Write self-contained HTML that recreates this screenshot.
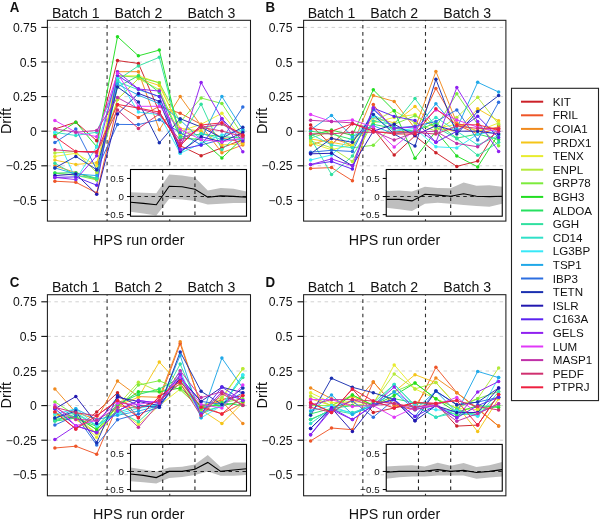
<!DOCTYPE html><html><head><meta charset="utf-8"><style>html,body{margin:0;padding:0;background:#fff}svg{display:block;will-change:transform}text{font-family:"Liberation Sans", sans-serif;fill:#111}</style></head><body>
<svg width="600" height="521" viewBox="0 0 600 521">
<rect width="600" height="521" fill="#fff"/>
<line x1="47.4" y1="27.40" x2="250.5" y2="27.40" stroke="#d2d2d2" stroke-width="1" stroke-dasharray="3.5 3.5"/>
<line x1="47.4" y1="62.00" x2="250.5" y2="62.00" stroke="#d2d2d2" stroke-width="1" stroke-dasharray="3.5 3.5"/>
<line x1="47.4" y1="96.60" x2="250.5" y2="96.60" stroke="#d2d2d2" stroke-width="1" stroke-dasharray="3.5 3.5"/>
<line x1="47.4" y1="131.20" x2="250.5" y2="131.20" stroke="#d2d2d2" stroke-width="1" stroke-dasharray="3.5 3.5"/>
<line x1="47.4" y1="165.80" x2="250.5" y2="165.80" stroke="#d2d2d2" stroke-width="1" stroke-dasharray="3.5 3.5"/>
<line x1="47.4" y1="200.40" x2="250.5" y2="200.40" stroke="#d2d2d2" stroke-width="1" stroke-dasharray="3.5 3.5"/>
<line x1="107.10" y1="20.3" x2="107.10" y2="221.1" stroke="#303030" stroke-width="1.1" stroke-dasharray="3.6 3.6" stroke-dashoffset="2.6"/>
<line x1="169.74" y1="20.3" x2="169.74" y2="221.1" stroke="#303030" stroke-width="1.1" stroke-dasharray="3.6 3.6" stroke-dashoffset="2.6"/>
<polyline fill="none" stroke="#CC2028" stroke-width="0.95" points="54.9,129.0 75.8,122.2 96.7,140.7 117.5,60.6 138.4,63.4 159.3,111.8 180.2,145.7 201.1,155.7 221.9,147.8 242.8,139.5"/>
<polyline fill="none" stroke="#EE5528" stroke-width="0.95" points="54.9,181.2 75.8,182.3 96.7,192.9 117.5,104.9 138.4,117.4 159.3,106.3 180.2,113.2 201.1,124.3 221.9,138.1 242.8,142.3"/>
<polyline fill="none" stroke="#F08A1E" stroke-width="0.95" points="54.9,165.8 75.8,172.7 96.7,179.6 117.5,71.7 138.4,71.7 159.3,129.8 180.2,96.6 201.1,125.7 221.9,152.7 242.8,145.0"/>
<polyline fill="none" stroke="#F5C518" stroke-width="0.95" points="54.9,160.1 75.8,164.4 96.7,162.8 117.5,99.4 138.4,78.6 159.3,85.5 180.2,128.4 201.1,131.2 221.9,145.0 242.8,143.7"/>
<polyline fill="none" stroke="#E8EC30" stroke-width="0.95" points="54.9,156.4 75.8,153.3 96.7,165.8 117.5,75.8 138.4,75.8 159.3,82.8 180.2,131.2 201.1,124.3 221.9,113.3 242.8,139.5"/>
<polyline fill="none" stroke="#B4EA3A" stroke-width="0.95" points="54.9,152.9 75.8,151.5 96.7,172.7 117.5,99.4 138.4,78.6 159.3,89.7 180.2,135.4 201.1,128.4 221.9,124.3 242.8,135.4"/>
<polyline fill="none" stroke="#7CEB3C" stroke-width="0.95" points="54.9,173.1 75.8,175.3 96.7,179.9 117.5,75.8 138.4,77.2 159.3,82.8 180.2,121.9 201.1,98.0 221.9,103.5 242.8,135.4"/>
<polyline fill="none" stroke="#22DD22" stroke-width="0.95" points="54.9,135.5 75.8,122.2 96.7,146.7 117.5,36.7 138.4,55.8 159.3,50.1 180.2,138.1 201.1,139.5 221.9,158.0 242.8,138.1"/>
<polyline fill="none" stroke="#26E060" stroke-width="0.95" points="54.9,173.1 75.8,172.7 96.7,178.3 117.5,86.9 138.4,75.8 159.3,92.4 180.2,137.0 201.1,134.0 221.9,136.7 242.8,138.1"/>
<polyline fill="none" stroke="#30E0A0" stroke-width="0.95" points="54.9,163.2 75.8,175.3 96.7,178.3 117.5,80.0 138.4,65.9 159.3,57.3 180.2,138.1 201.1,104.2 221.9,149.5 242.8,131.2"/>
<polyline fill="none" stroke="#30E0C8" stroke-width="0.95" points="54.9,132.4 75.8,135.5 96.7,132.2 117.5,81.8 138.4,89.7 159.3,96.6 180.2,153.3 201.1,133.4 221.9,139.5 242.8,139.5"/>
<polyline fill="none" stroke="#38E8F8" stroke-width="0.95" points="54.9,132.4 75.8,179.6 96.7,146.7 117.5,77.9 138.4,112.1 159.3,114.6 180.2,153.3 201.1,143.4 221.9,134.9 242.8,129.8"/>
<polyline fill="none" stroke="#20A8E8" stroke-width="0.95" points="54.9,167.9 75.8,174.0 96.7,175.6 117.5,84.1 138.4,95.2 159.3,103.5 180.2,120.1 201.1,139.5 221.9,96.5 242.8,129.8"/>
<polyline fill="none" stroke="#2C6EE0" stroke-width="0.95" points="54.9,142.5 75.8,129.0 96.7,169.7 117.5,124.4 138.4,124.6 159.3,119.7 180.2,132.6 201.1,145.0 221.9,139.5 242.8,107.0"/>
<polyline fill="none" stroke="#1A30B0" stroke-width="0.95" points="54.9,167.9 75.8,156.4 96.7,169.7 117.5,86.9 138.4,101.9 159.3,142.8 180.2,118.7 201.1,127.0 221.9,138.1 242.8,127.3"/>
<polyline fill="none" stroke="#2218B0" stroke-width="0.95" points="54.9,175.6 75.8,174.0 96.7,194.3 117.5,114.0 138.4,93.4 159.3,101.4 180.2,151.8 201.1,136.7 221.9,141.9 242.8,132.6"/>
<polyline fill="none" stroke="#5A22F0" stroke-width="0.95" points="54.9,177.4 75.8,176.9 96.7,185.2 117.5,75.4 138.4,89.0 159.3,96.6 180.2,149.5 201.1,145.0 221.9,118.7 242.8,140.9"/>
<polyline fill="none" stroke="#9020F0" stroke-width="0.95" points="54.9,177.4 75.8,179.6 96.7,155.8 117.5,71.7 138.4,89.0 159.3,91.1 180.2,149.5 201.1,82.5 221.9,118.7 242.8,151.8"/>
<polyline fill="none" stroke="#E038F8" stroke-width="0.95" points="54.9,120.4 75.8,132.2 96.7,136.7 117.5,73.5 138.4,106.3 159.3,106.3 180.2,129.5 201.1,139.5 221.9,141.9 242.8,138.0"/>
<polyline fill="none" stroke="#C030A8" stroke-width="0.95" points="54.9,129.0 75.8,132.2 96.7,130.5 117.5,97.6 138.4,108.8 159.3,114.0 180.2,140.3 201.1,127.3 221.9,124.1 242.8,135.4"/>
<polyline fill="none" stroke="#D03070" stroke-width="0.95" points="54.9,149.7 75.8,151.5 96.7,152.9 117.5,110.0 138.4,128.4 159.3,114.0 180.2,143.4 201.1,127.3 221.9,131.1 242.8,136.5"/>
<polyline fill="none" stroke="#EE2040" stroke-width="0.95" points="54.9,136.7 75.8,151.5 96.7,151.5 117.5,104.4 138.4,108.1 159.3,112.1 180.2,145.7 201.1,125.0 221.9,122.8 242.8,134.9"/>
<circle cx="54.9" cy="129.0" r="1.75" fill="#CC2028"/>
<circle cx="75.8" cy="122.2" r="1.75" fill="#CC2028"/>
<circle cx="96.7" cy="140.7" r="1.75" fill="#CC2028"/>
<circle cx="117.5" cy="60.6" r="1.75" fill="#CC2028"/>
<circle cx="138.4" cy="63.4" r="1.75" fill="#CC2028"/>
<circle cx="159.3" cy="111.8" r="1.75" fill="#CC2028"/>
<circle cx="180.2" cy="145.7" r="1.75" fill="#CC2028"/>
<circle cx="201.1" cy="155.7" r="1.75" fill="#CC2028"/>
<circle cx="221.9" cy="147.8" r="1.75" fill="#CC2028"/>
<circle cx="242.8" cy="139.5" r="1.75" fill="#CC2028"/>
<circle cx="54.9" cy="181.2" r="1.75" fill="#EE5528"/>
<circle cx="75.8" cy="182.3" r="1.75" fill="#EE5528"/>
<circle cx="96.7" cy="192.9" r="1.75" fill="#EE5528"/>
<circle cx="117.5" cy="104.9" r="1.75" fill="#EE5528"/>
<circle cx="138.4" cy="117.4" r="1.75" fill="#EE5528"/>
<circle cx="159.3" cy="106.3" r="1.75" fill="#EE5528"/>
<circle cx="180.2" cy="113.2" r="1.75" fill="#EE5528"/>
<circle cx="201.1" cy="124.3" r="1.75" fill="#EE5528"/>
<circle cx="221.9" cy="138.1" r="1.75" fill="#EE5528"/>
<circle cx="242.8" cy="142.3" r="1.75" fill="#EE5528"/>
<circle cx="54.9" cy="165.8" r="1.75" fill="#F08A1E"/>
<circle cx="75.8" cy="172.7" r="1.75" fill="#F08A1E"/>
<circle cx="96.7" cy="179.6" r="1.75" fill="#F08A1E"/>
<circle cx="117.5" cy="71.7" r="1.75" fill="#F08A1E"/>
<circle cx="138.4" cy="71.7" r="1.75" fill="#F08A1E"/>
<circle cx="159.3" cy="129.8" r="1.75" fill="#F08A1E"/>
<circle cx="180.2" cy="96.6" r="1.75" fill="#F08A1E"/>
<circle cx="201.1" cy="125.7" r="1.75" fill="#F08A1E"/>
<circle cx="221.9" cy="152.7" r="1.75" fill="#F08A1E"/>
<circle cx="242.8" cy="145.0" r="1.75" fill="#F08A1E"/>
<circle cx="54.9" cy="160.1" r="1.75" fill="#F5C518"/>
<circle cx="75.8" cy="164.4" r="1.75" fill="#F5C518"/>
<circle cx="96.7" cy="162.8" r="1.75" fill="#F5C518"/>
<circle cx="117.5" cy="99.4" r="1.75" fill="#F5C518"/>
<circle cx="138.4" cy="78.6" r="1.75" fill="#F5C518"/>
<circle cx="159.3" cy="85.5" r="1.75" fill="#F5C518"/>
<circle cx="180.2" cy="128.4" r="1.75" fill="#F5C518"/>
<circle cx="201.1" cy="131.2" r="1.75" fill="#F5C518"/>
<circle cx="221.9" cy="145.0" r="1.75" fill="#F5C518"/>
<circle cx="242.8" cy="143.7" r="1.75" fill="#F5C518"/>
<circle cx="54.9" cy="156.4" r="1.75" fill="#E8EC30"/>
<circle cx="75.8" cy="153.3" r="1.75" fill="#E8EC30"/>
<circle cx="96.7" cy="165.8" r="1.75" fill="#E8EC30"/>
<circle cx="117.5" cy="75.8" r="1.75" fill="#E8EC30"/>
<circle cx="138.4" cy="75.8" r="1.75" fill="#E8EC30"/>
<circle cx="159.3" cy="82.8" r="1.75" fill="#E8EC30"/>
<circle cx="180.2" cy="131.2" r="1.75" fill="#E8EC30"/>
<circle cx="201.1" cy="124.3" r="1.75" fill="#E8EC30"/>
<circle cx="221.9" cy="113.3" r="1.75" fill="#E8EC30"/>
<circle cx="242.8" cy="139.5" r="1.75" fill="#E8EC30"/>
<circle cx="54.9" cy="152.9" r="1.75" fill="#B4EA3A"/>
<circle cx="75.8" cy="151.5" r="1.75" fill="#B4EA3A"/>
<circle cx="96.7" cy="172.7" r="1.75" fill="#B4EA3A"/>
<circle cx="117.5" cy="99.4" r="1.75" fill="#B4EA3A"/>
<circle cx="138.4" cy="78.6" r="1.75" fill="#B4EA3A"/>
<circle cx="159.3" cy="89.7" r="1.75" fill="#B4EA3A"/>
<circle cx="180.2" cy="135.4" r="1.75" fill="#B4EA3A"/>
<circle cx="201.1" cy="128.4" r="1.75" fill="#B4EA3A"/>
<circle cx="221.9" cy="124.3" r="1.75" fill="#B4EA3A"/>
<circle cx="242.8" cy="135.4" r="1.75" fill="#B4EA3A"/>
<circle cx="54.9" cy="173.1" r="1.75" fill="#7CEB3C"/>
<circle cx="75.8" cy="175.3" r="1.75" fill="#7CEB3C"/>
<circle cx="96.7" cy="179.9" r="1.75" fill="#7CEB3C"/>
<circle cx="117.5" cy="75.8" r="1.75" fill="#7CEB3C"/>
<circle cx="138.4" cy="77.2" r="1.75" fill="#7CEB3C"/>
<circle cx="159.3" cy="82.8" r="1.75" fill="#7CEB3C"/>
<circle cx="180.2" cy="121.9" r="1.75" fill="#7CEB3C"/>
<circle cx="201.1" cy="98.0" r="1.75" fill="#7CEB3C"/>
<circle cx="221.9" cy="103.5" r="1.75" fill="#7CEB3C"/>
<circle cx="242.8" cy="135.4" r="1.75" fill="#7CEB3C"/>
<circle cx="54.9" cy="135.5" r="1.75" fill="#22DD22"/>
<circle cx="75.8" cy="122.2" r="1.75" fill="#22DD22"/>
<circle cx="96.7" cy="146.7" r="1.75" fill="#22DD22"/>
<circle cx="117.5" cy="36.7" r="1.75" fill="#22DD22"/>
<circle cx="138.4" cy="55.8" r="1.75" fill="#22DD22"/>
<circle cx="159.3" cy="50.1" r="1.75" fill="#22DD22"/>
<circle cx="180.2" cy="138.1" r="1.75" fill="#22DD22"/>
<circle cx="201.1" cy="139.5" r="1.75" fill="#22DD22"/>
<circle cx="221.9" cy="158.0" r="1.75" fill="#22DD22"/>
<circle cx="242.8" cy="138.1" r="1.75" fill="#22DD22"/>
<circle cx="54.9" cy="173.1" r="1.75" fill="#26E060"/>
<circle cx="75.8" cy="172.7" r="1.75" fill="#26E060"/>
<circle cx="96.7" cy="178.3" r="1.75" fill="#26E060"/>
<circle cx="117.5" cy="86.9" r="1.75" fill="#26E060"/>
<circle cx="138.4" cy="75.8" r="1.75" fill="#26E060"/>
<circle cx="159.3" cy="92.4" r="1.75" fill="#26E060"/>
<circle cx="180.2" cy="137.0" r="1.75" fill="#26E060"/>
<circle cx="201.1" cy="134.0" r="1.75" fill="#26E060"/>
<circle cx="221.9" cy="136.7" r="1.75" fill="#26E060"/>
<circle cx="242.8" cy="138.1" r="1.75" fill="#26E060"/>
<circle cx="54.9" cy="163.2" r="1.75" fill="#30E0A0"/>
<circle cx="75.8" cy="175.3" r="1.75" fill="#30E0A0"/>
<circle cx="96.7" cy="178.3" r="1.75" fill="#30E0A0"/>
<circle cx="117.5" cy="80.0" r="1.75" fill="#30E0A0"/>
<circle cx="138.4" cy="65.9" r="1.75" fill="#30E0A0"/>
<circle cx="159.3" cy="57.3" r="1.75" fill="#30E0A0"/>
<circle cx="180.2" cy="138.1" r="1.75" fill="#30E0A0"/>
<circle cx="201.1" cy="104.2" r="1.75" fill="#30E0A0"/>
<circle cx="221.9" cy="149.5" r="1.75" fill="#30E0A0"/>
<circle cx="242.8" cy="131.2" r="1.75" fill="#30E0A0"/>
<circle cx="54.9" cy="132.4" r="1.75" fill="#30E0C8"/>
<circle cx="75.8" cy="135.5" r="1.75" fill="#30E0C8"/>
<circle cx="96.7" cy="132.2" r="1.75" fill="#30E0C8"/>
<circle cx="117.5" cy="81.8" r="1.75" fill="#30E0C8"/>
<circle cx="138.4" cy="89.7" r="1.75" fill="#30E0C8"/>
<circle cx="159.3" cy="96.6" r="1.75" fill="#30E0C8"/>
<circle cx="180.2" cy="153.3" r="1.75" fill="#30E0C8"/>
<circle cx="201.1" cy="133.4" r="1.75" fill="#30E0C8"/>
<circle cx="221.9" cy="139.5" r="1.75" fill="#30E0C8"/>
<circle cx="242.8" cy="139.5" r="1.75" fill="#30E0C8"/>
<circle cx="54.9" cy="132.4" r="1.75" fill="#38E8F8"/>
<circle cx="75.8" cy="179.6" r="1.75" fill="#38E8F8"/>
<circle cx="96.7" cy="146.7" r="1.75" fill="#38E8F8"/>
<circle cx="117.5" cy="77.9" r="1.75" fill="#38E8F8"/>
<circle cx="138.4" cy="112.1" r="1.75" fill="#38E8F8"/>
<circle cx="159.3" cy="114.6" r="1.75" fill="#38E8F8"/>
<circle cx="180.2" cy="153.3" r="1.75" fill="#38E8F8"/>
<circle cx="201.1" cy="143.4" r="1.75" fill="#38E8F8"/>
<circle cx="221.9" cy="134.9" r="1.75" fill="#38E8F8"/>
<circle cx="242.8" cy="129.8" r="1.75" fill="#38E8F8"/>
<circle cx="54.9" cy="167.9" r="1.75" fill="#20A8E8"/>
<circle cx="75.8" cy="174.0" r="1.75" fill="#20A8E8"/>
<circle cx="96.7" cy="175.6" r="1.75" fill="#20A8E8"/>
<circle cx="117.5" cy="84.1" r="1.75" fill="#20A8E8"/>
<circle cx="138.4" cy="95.2" r="1.75" fill="#20A8E8"/>
<circle cx="159.3" cy="103.5" r="1.75" fill="#20A8E8"/>
<circle cx="180.2" cy="120.1" r="1.75" fill="#20A8E8"/>
<circle cx="201.1" cy="139.5" r="1.75" fill="#20A8E8"/>
<circle cx="221.9" cy="96.5" r="1.75" fill="#20A8E8"/>
<circle cx="242.8" cy="129.8" r="1.75" fill="#20A8E8"/>
<circle cx="54.9" cy="142.5" r="1.75" fill="#2C6EE0"/>
<circle cx="75.8" cy="129.0" r="1.75" fill="#2C6EE0"/>
<circle cx="96.7" cy="169.7" r="1.75" fill="#2C6EE0"/>
<circle cx="117.5" cy="124.4" r="1.75" fill="#2C6EE0"/>
<circle cx="138.4" cy="124.6" r="1.75" fill="#2C6EE0"/>
<circle cx="159.3" cy="119.7" r="1.75" fill="#2C6EE0"/>
<circle cx="180.2" cy="132.6" r="1.75" fill="#2C6EE0"/>
<circle cx="201.1" cy="145.0" r="1.75" fill="#2C6EE0"/>
<circle cx="221.9" cy="139.5" r="1.75" fill="#2C6EE0"/>
<circle cx="242.8" cy="107.0" r="1.75" fill="#2C6EE0"/>
<circle cx="54.9" cy="167.9" r="1.75" fill="#1A30B0"/>
<circle cx="75.8" cy="156.4" r="1.75" fill="#1A30B0"/>
<circle cx="96.7" cy="169.7" r="1.75" fill="#1A30B0"/>
<circle cx="117.5" cy="86.9" r="1.75" fill="#1A30B0"/>
<circle cx="138.4" cy="101.9" r="1.75" fill="#1A30B0"/>
<circle cx="159.3" cy="142.8" r="1.75" fill="#1A30B0"/>
<circle cx="180.2" cy="118.7" r="1.75" fill="#1A30B0"/>
<circle cx="201.1" cy="127.0" r="1.75" fill="#1A30B0"/>
<circle cx="221.9" cy="138.1" r="1.75" fill="#1A30B0"/>
<circle cx="242.8" cy="127.3" r="1.75" fill="#1A30B0"/>
<circle cx="54.9" cy="175.6" r="1.75" fill="#2218B0"/>
<circle cx="75.8" cy="174.0" r="1.75" fill="#2218B0"/>
<circle cx="96.7" cy="194.3" r="1.75" fill="#2218B0"/>
<circle cx="117.5" cy="114.0" r="1.75" fill="#2218B0"/>
<circle cx="138.4" cy="93.4" r="1.75" fill="#2218B0"/>
<circle cx="159.3" cy="101.4" r="1.75" fill="#2218B0"/>
<circle cx="180.2" cy="151.8" r="1.75" fill="#2218B0"/>
<circle cx="201.1" cy="136.7" r="1.75" fill="#2218B0"/>
<circle cx="221.9" cy="141.9" r="1.75" fill="#2218B0"/>
<circle cx="242.8" cy="132.6" r="1.75" fill="#2218B0"/>
<circle cx="54.9" cy="177.4" r="1.75" fill="#5A22F0"/>
<circle cx="75.8" cy="176.9" r="1.75" fill="#5A22F0"/>
<circle cx="96.7" cy="185.2" r="1.75" fill="#5A22F0"/>
<circle cx="117.5" cy="75.4" r="1.75" fill="#5A22F0"/>
<circle cx="138.4" cy="89.0" r="1.75" fill="#5A22F0"/>
<circle cx="159.3" cy="96.6" r="1.75" fill="#5A22F0"/>
<circle cx="180.2" cy="149.5" r="1.75" fill="#5A22F0"/>
<circle cx="201.1" cy="145.0" r="1.75" fill="#5A22F0"/>
<circle cx="221.9" cy="118.7" r="1.75" fill="#5A22F0"/>
<circle cx="242.8" cy="140.9" r="1.75" fill="#5A22F0"/>
<circle cx="54.9" cy="177.4" r="1.75" fill="#9020F0"/>
<circle cx="75.8" cy="179.6" r="1.75" fill="#9020F0"/>
<circle cx="96.7" cy="155.8" r="1.75" fill="#9020F0"/>
<circle cx="117.5" cy="71.7" r="1.75" fill="#9020F0"/>
<circle cx="138.4" cy="89.0" r="1.75" fill="#9020F0"/>
<circle cx="159.3" cy="91.1" r="1.75" fill="#9020F0"/>
<circle cx="180.2" cy="149.5" r="1.75" fill="#9020F0"/>
<circle cx="201.1" cy="82.5" r="1.75" fill="#9020F0"/>
<circle cx="221.9" cy="118.7" r="1.75" fill="#9020F0"/>
<circle cx="242.8" cy="151.8" r="1.75" fill="#9020F0"/>
<circle cx="54.9" cy="120.4" r="1.75" fill="#E038F8"/>
<circle cx="75.8" cy="132.2" r="1.75" fill="#E038F8"/>
<circle cx="96.7" cy="136.7" r="1.75" fill="#E038F8"/>
<circle cx="117.5" cy="73.5" r="1.75" fill="#E038F8"/>
<circle cx="138.4" cy="106.3" r="1.75" fill="#E038F8"/>
<circle cx="159.3" cy="106.3" r="1.75" fill="#E038F8"/>
<circle cx="180.2" cy="129.5" r="1.75" fill="#E038F8"/>
<circle cx="201.1" cy="139.5" r="1.75" fill="#E038F8"/>
<circle cx="221.9" cy="141.9" r="1.75" fill="#E038F8"/>
<circle cx="242.8" cy="138.0" r="1.75" fill="#E038F8"/>
<circle cx="54.9" cy="129.0" r="1.75" fill="#C030A8"/>
<circle cx="75.8" cy="132.2" r="1.75" fill="#C030A8"/>
<circle cx="96.7" cy="130.5" r="1.75" fill="#C030A8"/>
<circle cx="117.5" cy="97.6" r="1.75" fill="#C030A8"/>
<circle cx="138.4" cy="108.8" r="1.75" fill="#C030A8"/>
<circle cx="159.3" cy="114.0" r="1.75" fill="#C030A8"/>
<circle cx="180.2" cy="140.3" r="1.75" fill="#C030A8"/>
<circle cx="201.1" cy="127.3" r="1.75" fill="#C030A8"/>
<circle cx="221.9" cy="124.1" r="1.75" fill="#C030A8"/>
<circle cx="242.8" cy="135.4" r="1.75" fill="#C030A8"/>
<circle cx="54.9" cy="149.7" r="1.75" fill="#D03070"/>
<circle cx="75.8" cy="151.5" r="1.75" fill="#D03070"/>
<circle cx="96.7" cy="152.9" r="1.75" fill="#D03070"/>
<circle cx="117.5" cy="110.0" r="1.75" fill="#D03070"/>
<circle cx="138.4" cy="128.4" r="1.75" fill="#D03070"/>
<circle cx="159.3" cy="114.0" r="1.75" fill="#D03070"/>
<circle cx="180.2" cy="143.4" r="1.75" fill="#D03070"/>
<circle cx="201.1" cy="127.3" r="1.75" fill="#D03070"/>
<circle cx="221.9" cy="131.1" r="1.75" fill="#D03070"/>
<circle cx="242.8" cy="136.5" r="1.75" fill="#D03070"/>
<circle cx="54.9" cy="136.7" r="1.75" fill="#EE2040"/>
<circle cx="75.8" cy="151.5" r="1.75" fill="#EE2040"/>
<circle cx="96.7" cy="151.5" r="1.75" fill="#EE2040"/>
<circle cx="117.5" cy="104.4" r="1.75" fill="#EE2040"/>
<circle cx="138.4" cy="108.1" r="1.75" fill="#EE2040"/>
<circle cx="159.3" cy="112.1" r="1.75" fill="#EE2040"/>
<circle cx="180.2" cy="145.7" r="1.75" fill="#EE2040"/>
<circle cx="201.1" cy="125.0" r="1.75" fill="#EE2040"/>
<circle cx="221.9" cy="122.8" r="1.75" fill="#EE2040"/>
<circle cx="242.8" cy="134.9" r="1.75" fill="#EE2040"/>
<rect x="130.5" y="169.5" width="116.0" height="46.69999999999999" fill="#fff"/>
<clipPath id="cA"><rect x="130.5" y="169.5" width="116.0" height="46.69999999999999"/></clipPath>
<polygon clip-path="url(#cA)" fill="#bebebe" points="130.5,192.2 143.4,192.7 156.3,193.3 169.2,174.5 182.1,175.6 194.9,177.4 207.8,190.4 220.7,187.9 233.6,188.8 246.5,191.5 246.5,203.1 233.6,203.1 220.7,203.8 207.8,204.5 194.9,200.9 182.1,199.4 169.2,198.7 156.3,215.4 143.4,213.6 130.5,211.8"/>
<line x1="130.5" y1="196.55" x2="246.5" y2="196.55" stroke="#222" stroke-width="1.1" stroke-dasharray="3.5 3.5"/>
<line x1="162.72" y1="169.5" x2="162.72" y2="216.2" stroke="#222" stroke-width="1.1" stroke-dasharray="3.5 3.5"/>
<line x1="194.94" y1="169.5" x2="194.94" y2="216.2" stroke="#222" stroke-width="1.1" stroke-dasharray="3.5 3.5"/>
<polyline clip-path="url(#cA)" fill="none" stroke="#000" stroke-width="1.1" points="130.5,202.3 143.4,203.4 156.3,204.7 169.2,186.3 182.1,186.8 194.9,189.3 207.8,197.3 220.7,195.9 233.6,196.4 246.5,197.3"/>
<rect x="130.5" y="169.5" width="116.0" height="46.69999999999999" fill="none" stroke="#000" stroke-width="1.1"/>
<line x1="127.0" y1="178.45" x2="130.5" y2="178.45" stroke="#000" stroke-width="1"/>
<text x="123.9" y="181.95" font-size="9.8" text-anchor="end">0.5</text>
<line x1="127.0" y1="196.55" x2="130.5" y2="196.55" stroke="#000" stroke-width="1"/>
<text x="123.9" y="200.05" font-size="9.8" text-anchor="end">0</text>
<line x1="127.0" y1="214.65" x2="130.5" y2="214.65" stroke="#000" stroke-width="1"/>
<text x="123.9" y="218.15" font-size="9.8" text-anchor="end">−0.5</text>
<rect x="47.4" y="20.3" width="203.1" height="200.79999999999998" fill="none" stroke="#1a1a1a" stroke-width="1.05"/>
<line x1="41.3" y1="27.40" x2="47.4" y2="27.40" stroke="#111" stroke-width="1.1"/>
<text x="36.7" y="31.90" font-size="12.2" text-anchor="end">0.75</text>
<line x1="41.3" y1="62.00" x2="47.4" y2="62.00" stroke="#111" stroke-width="1.1"/>
<text x="36.7" y="66.50" font-size="12.2" text-anchor="end">0.5</text>
<line x1="41.3" y1="96.60" x2="47.4" y2="96.60" stroke="#111" stroke-width="1.1"/>
<text x="36.7" y="101.10" font-size="12.2" text-anchor="end">0.25</text>
<line x1="41.3" y1="131.20" x2="47.4" y2="131.20" stroke="#111" stroke-width="1.1"/>
<text x="36.7" y="135.70" font-size="12.2" text-anchor="end">0</text>
<line x1="41.3" y1="165.80" x2="47.4" y2="165.80" stroke="#111" stroke-width="1.1"/>
<text x="36.7" y="170.30" font-size="12.2" text-anchor="end">−0.25</text>
<line x1="41.3" y1="200.40" x2="47.4" y2="200.40" stroke="#111" stroke-width="1.1"/>
<text x="36.7" y="204.90" font-size="12.2" text-anchor="end">−0.5</text>
<text x="75.78" y="18" font-size="14.1" text-anchor="middle">Batch 1</text>
<text x="138.42" y="18" font-size="14.1" text-anchor="middle">Batch 2</text>
<text x="211.50" y="18" font-size="14.1" text-anchor="middle">Batch 3</text>
<text transform="translate(9.7,12.1) scale(0.93,1)" font-size="14.3" font-weight="bold">A</text>
<text transform="translate(10.9,120.9) rotate(-90)" font-size="14.4" text-anchor="middle">Drift</text>
<text x="138.8" y="245" font-size="14.3" text-anchor="middle">HPS run order</text>
<line x1="303.59999999999997" y1="27.40" x2="505.9" y2="27.40" stroke="#d2d2d2" stroke-width="1" stroke-dasharray="3.5 3.5"/>
<line x1="303.59999999999997" y1="62.00" x2="505.9" y2="62.00" stroke="#d2d2d2" stroke-width="1" stroke-dasharray="3.5 3.5"/>
<line x1="303.59999999999997" y1="96.60" x2="505.9" y2="96.60" stroke="#d2d2d2" stroke-width="1" stroke-dasharray="3.5 3.5"/>
<line x1="303.59999999999997" y1="131.20" x2="505.9" y2="131.20" stroke="#d2d2d2" stroke-width="1" stroke-dasharray="3.5 3.5"/>
<line x1="303.59999999999997" y1="165.80" x2="505.9" y2="165.80" stroke="#d2d2d2" stroke-width="1" stroke-dasharray="3.5 3.5"/>
<line x1="303.59999999999997" y1="200.40" x2="505.9" y2="200.40" stroke="#d2d2d2" stroke-width="1" stroke-dasharray="3.5 3.5"/>
<line x1="362.85" y1="20.3" x2="362.85" y2="221.1" stroke="#303030" stroke-width="1.1" stroke-dasharray="3.6 3.6" stroke-dashoffset="2.6"/>
<line x1="425.49" y1="20.3" x2="425.49" y2="221.1" stroke="#303030" stroke-width="1.1" stroke-dasharray="3.6 3.6" stroke-dashoffset="2.6"/>
<polyline fill="none" stroke="#CC2028" stroke-width="0.95" points="310.6,125.1 331.5,145.0 352.4,123.7 373.3,128.8 394.2,155.1 415.0,135.8 435.9,152.7 456.8,166.4 477.7,161.1 498.6,126.1"/>
<polyline fill="none" stroke="#EE5528" stroke-width="0.95" points="310.6,168.4 331.5,167.6 352.4,180.7 373.3,104.6 394.2,131.2 415.0,132.6 435.9,88.4 456.8,124.8 477.7,134.0 498.6,128.4"/>
<polyline fill="none" stroke="#F08A1E" stroke-width="0.95" points="310.6,145.0 331.5,138.1 352.4,145.0 373.3,95.5 394.2,101.4 415.0,128.4 435.9,71.4 456.8,122.9 477.7,131.2 498.6,127.0"/>
<polyline fill="none" stroke="#F5C518" stroke-width="0.95" points="310.6,139.0 331.5,142.3 352.4,146.1 373.3,117.4 394.2,122.9 415.0,106.4 435.9,128.4 456.8,131.2 477.7,108.8 498.6,120.8"/>
<polyline fill="none" stroke="#E8EC30" stroke-width="0.95" points="310.6,143.0 331.5,149.7 352.4,145.0 373.3,122.9 394.2,117.4 415.0,114.6 435.9,128.4 456.8,124.3 477.7,131.2 498.6,122.9"/>
<polyline fill="none" stroke="#B4EA3A" stroke-width="0.95" points="310.6,140.9 331.5,147.8 352.4,161.5 373.3,121.5 394.2,110.7 415.0,122.9 435.9,131.2 456.8,117.4 477.7,97.3 498.6,124.3"/>
<polyline fill="none" stroke="#7CEB3C" stroke-width="0.95" points="310.6,138.1 331.5,131.2 352.4,147.8 373.3,145.3 394.2,124.3 415.0,115.8 435.9,127.2 456.8,93.8 477.7,124.3 498.6,145.7"/>
<polyline fill="none" stroke="#22DD22" stroke-width="0.95" points="310.6,135.4 331.5,130.0 352.4,135.4 373.3,89.8 394.2,110.7 415.0,158.3 435.9,131.2 456.8,156.0 477.7,166.9 498.6,134.0"/>
<polyline fill="none" stroke="#26E060" stroke-width="0.95" points="310.6,131.2 331.5,134.0 352.4,139.5 373.3,124.3 394.2,128.4 415.0,131.2 435.9,122.9 456.8,138.1 477.7,134.0 498.6,139.5"/>
<polyline fill="none" stroke="#30E0A0" stroke-width="0.95" points="310.6,138.1 331.5,174.5 352.4,156.1 373.3,121.1 394.2,124.6 415.0,98.5 435.9,127.0 456.8,138.7 477.7,155.3 498.6,142.3"/>
<polyline fill="none" stroke="#30E0C8" stroke-width="0.95" points="310.6,134.0 331.5,145.0 352.4,147.8 373.3,114.6 394.2,127.0 415.0,132.6 435.9,117.4 456.8,131.2 477.7,145.0 498.6,135.4"/>
<polyline fill="none" stroke="#38E8F8" stroke-width="0.95" points="310.6,160.0 331.5,154.9 352.4,136.9 373.3,116.7 394.2,131.2 415.0,128.4 435.9,146.8 456.8,147.9 477.7,134.1 498.6,131.2"/>
<polyline fill="none" stroke="#20A8E8" stroke-width="0.95" points="310.6,129.7 331.5,115.4 352.4,136.9 373.3,125.7 394.2,134.0 415.0,131.2 435.9,103.7 456.8,128.4 477.7,82.3 498.6,92.0"/>
<polyline fill="none" stroke="#2C6EE0" stroke-width="0.95" points="310.6,152.2 331.5,150.3 352.4,151.5 373.3,109.7 394.2,128.0 415.0,126.2 435.9,121.5 456.8,109.9 477.7,139.9 498.6,102.3"/>
<polyline fill="none" stroke="#1A30B0" stroke-width="0.95" points="310.6,153.8 331.5,138.4 352.4,142.3 373.3,114.6 394.2,134.0 415.0,146.1 435.9,79.3 456.8,134.1 477.7,111.5 498.6,95.6"/>
<polyline fill="none" stroke="#2218B0" stroke-width="0.95" points="310.6,153.8 331.5,153.3 352.4,165.8 373.3,131.2 394.2,124.3 415.0,135.4 435.9,125.7 456.8,131.2 477.7,131.2 498.6,134.0"/>
<polyline fill="none" stroke="#5A22F0" stroke-width="0.95" points="310.6,164.6 331.5,161.5 352.4,169.1 373.3,108.1 394.2,116.4 415.0,120.5 435.9,142.3 456.8,131.2 477.7,116.3 498.6,137.6"/>
<polyline fill="none" stroke="#9020F0" stroke-width="0.95" points="310.6,164.6 331.5,158.9 352.4,165.8 373.3,108.1 394.2,128.4 415.0,127.0 435.9,142.3 456.8,87.6 477.7,121.5 498.6,151.4"/>
<polyline fill="none" stroke="#E038F8" stroke-width="0.95" points="310.6,114.6 331.5,121.5 352.4,120.0 373.3,127.0 394.2,147.0 415.0,129.7 435.9,109.9 456.8,119.9 477.7,127.2 498.6,131.8"/>
<polyline fill="none" stroke="#C030A8" stroke-width="0.95" points="310.6,120.3 331.5,121.5 352.4,122.9 373.3,131.2 394.2,140.1 415.0,132.3 435.9,131.2 456.8,143.4 477.7,146.8 498.6,131.2"/>
<polyline fill="none" stroke="#D03070" stroke-width="0.95" points="310.6,133.8 331.5,133.8 352.4,132.3 373.3,132.3 394.2,132.3 415.0,132.3 435.9,134.1 456.8,126.1 477.7,128.4 498.6,128.4"/>
<polyline fill="none" stroke="#EE2040" stroke-width="0.95" points="310.6,128.4 331.5,131.2 352.4,123.7 373.3,131.2 394.2,134.0 415.0,134.0 435.9,108.8 456.8,124.8 477.7,124.8 498.6,129.8"/>
<circle cx="310.6" cy="125.1" r="1.75" fill="#CC2028"/>
<circle cx="331.5" cy="145.0" r="1.75" fill="#CC2028"/>
<circle cx="352.4" cy="123.7" r="1.75" fill="#CC2028"/>
<circle cx="373.3" cy="128.8" r="1.75" fill="#CC2028"/>
<circle cx="394.2" cy="155.1" r="1.75" fill="#CC2028"/>
<circle cx="415.0" cy="135.8" r="1.75" fill="#CC2028"/>
<circle cx="435.9" cy="152.7" r="1.75" fill="#CC2028"/>
<circle cx="456.8" cy="166.4" r="1.75" fill="#CC2028"/>
<circle cx="477.7" cy="161.1" r="1.75" fill="#CC2028"/>
<circle cx="498.6" cy="126.1" r="1.75" fill="#CC2028"/>
<circle cx="310.6" cy="168.4" r="1.75" fill="#EE5528"/>
<circle cx="331.5" cy="167.6" r="1.75" fill="#EE5528"/>
<circle cx="352.4" cy="180.7" r="1.75" fill="#EE5528"/>
<circle cx="373.3" cy="104.6" r="1.75" fill="#EE5528"/>
<circle cx="394.2" cy="131.2" r="1.75" fill="#EE5528"/>
<circle cx="415.0" cy="132.6" r="1.75" fill="#EE5528"/>
<circle cx="435.9" cy="88.4" r="1.75" fill="#EE5528"/>
<circle cx="456.8" cy="124.8" r="1.75" fill="#EE5528"/>
<circle cx="477.7" cy="134.0" r="1.75" fill="#EE5528"/>
<circle cx="498.6" cy="128.4" r="1.75" fill="#EE5528"/>
<circle cx="310.6" cy="145.0" r="1.75" fill="#F08A1E"/>
<circle cx="331.5" cy="138.1" r="1.75" fill="#F08A1E"/>
<circle cx="352.4" cy="145.0" r="1.75" fill="#F08A1E"/>
<circle cx="373.3" cy="95.5" r="1.75" fill="#F08A1E"/>
<circle cx="394.2" cy="101.4" r="1.75" fill="#F08A1E"/>
<circle cx="415.0" cy="128.4" r="1.75" fill="#F08A1E"/>
<circle cx="435.9" cy="71.4" r="1.75" fill="#F08A1E"/>
<circle cx="456.8" cy="122.9" r="1.75" fill="#F08A1E"/>
<circle cx="477.7" cy="131.2" r="1.75" fill="#F08A1E"/>
<circle cx="498.6" cy="127.0" r="1.75" fill="#F08A1E"/>
<circle cx="310.6" cy="139.0" r="1.75" fill="#F5C518"/>
<circle cx="331.5" cy="142.3" r="1.75" fill="#F5C518"/>
<circle cx="352.4" cy="146.1" r="1.75" fill="#F5C518"/>
<circle cx="373.3" cy="117.4" r="1.75" fill="#F5C518"/>
<circle cx="394.2" cy="122.9" r="1.75" fill="#F5C518"/>
<circle cx="415.0" cy="106.4" r="1.75" fill="#F5C518"/>
<circle cx="435.9" cy="128.4" r="1.75" fill="#F5C518"/>
<circle cx="456.8" cy="131.2" r="1.75" fill="#F5C518"/>
<circle cx="477.7" cy="108.8" r="1.75" fill="#F5C518"/>
<circle cx="498.6" cy="120.8" r="1.75" fill="#F5C518"/>
<circle cx="310.6" cy="143.0" r="1.75" fill="#E8EC30"/>
<circle cx="331.5" cy="149.7" r="1.75" fill="#E8EC30"/>
<circle cx="352.4" cy="145.0" r="1.75" fill="#E8EC30"/>
<circle cx="373.3" cy="122.9" r="1.75" fill="#E8EC30"/>
<circle cx="394.2" cy="117.4" r="1.75" fill="#E8EC30"/>
<circle cx="415.0" cy="114.6" r="1.75" fill="#E8EC30"/>
<circle cx="435.9" cy="128.4" r="1.75" fill="#E8EC30"/>
<circle cx="456.8" cy="124.3" r="1.75" fill="#E8EC30"/>
<circle cx="477.7" cy="131.2" r="1.75" fill="#E8EC30"/>
<circle cx="498.6" cy="122.9" r="1.75" fill="#E8EC30"/>
<circle cx="310.6" cy="140.9" r="1.75" fill="#B4EA3A"/>
<circle cx="331.5" cy="147.8" r="1.75" fill="#B4EA3A"/>
<circle cx="352.4" cy="161.5" r="1.75" fill="#B4EA3A"/>
<circle cx="373.3" cy="121.5" r="1.75" fill="#B4EA3A"/>
<circle cx="394.2" cy="110.7" r="1.75" fill="#B4EA3A"/>
<circle cx="415.0" cy="122.9" r="1.75" fill="#B4EA3A"/>
<circle cx="435.9" cy="131.2" r="1.75" fill="#B4EA3A"/>
<circle cx="456.8" cy="117.4" r="1.75" fill="#B4EA3A"/>
<circle cx="477.7" cy="97.3" r="1.75" fill="#B4EA3A"/>
<circle cx="498.6" cy="124.3" r="1.75" fill="#B4EA3A"/>
<circle cx="310.6" cy="138.1" r="1.75" fill="#7CEB3C"/>
<circle cx="331.5" cy="131.2" r="1.75" fill="#7CEB3C"/>
<circle cx="352.4" cy="147.8" r="1.75" fill="#7CEB3C"/>
<circle cx="373.3" cy="145.3" r="1.75" fill="#7CEB3C"/>
<circle cx="394.2" cy="124.3" r="1.75" fill="#7CEB3C"/>
<circle cx="415.0" cy="115.8" r="1.75" fill="#7CEB3C"/>
<circle cx="435.9" cy="127.2" r="1.75" fill="#7CEB3C"/>
<circle cx="456.8" cy="93.8" r="1.75" fill="#7CEB3C"/>
<circle cx="477.7" cy="124.3" r="1.75" fill="#7CEB3C"/>
<circle cx="498.6" cy="145.7" r="1.75" fill="#7CEB3C"/>
<circle cx="310.6" cy="135.4" r="1.75" fill="#22DD22"/>
<circle cx="331.5" cy="130.0" r="1.75" fill="#22DD22"/>
<circle cx="352.4" cy="135.4" r="1.75" fill="#22DD22"/>
<circle cx="373.3" cy="89.8" r="1.75" fill="#22DD22"/>
<circle cx="394.2" cy="110.7" r="1.75" fill="#22DD22"/>
<circle cx="415.0" cy="158.3" r="1.75" fill="#22DD22"/>
<circle cx="435.9" cy="131.2" r="1.75" fill="#22DD22"/>
<circle cx="456.8" cy="156.0" r="1.75" fill="#22DD22"/>
<circle cx="477.7" cy="166.9" r="1.75" fill="#22DD22"/>
<circle cx="498.6" cy="134.0" r="1.75" fill="#22DD22"/>
<circle cx="310.6" cy="131.2" r="1.75" fill="#26E060"/>
<circle cx="331.5" cy="134.0" r="1.75" fill="#26E060"/>
<circle cx="352.4" cy="139.5" r="1.75" fill="#26E060"/>
<circle cx="373.3" cy="124.3" r="1.75" fill="#26E060"/>
<circle cx="394.2" cy="128.4" r="1.75" fill="#26E060"/>
<circle cx="415.0" cy="131.2" r="1.75" fill="#26E060"/>
<circle cx="435.9" cy="122.9" r="1.75" fill="#26E060"/>
<circle cx="456.8" cy="138.1" r="1.75" fill="#26E060"/>
<circle cx="477.7" cy="134.0" r="1.75" fill="#26E060"/>
<circle cx="498.6" cy="139.5" r="1.75" fill="#26E060"/>
<circle cx="310.6" cy="138.1" r="1.75" fill="#30E0A0"/>
<circle cx="331.5" cy="174.5" r="1.75" fill="#30E0A0"/>
<circle cx="352.4" cy="156.1" r="1.75" fill="#30E0A0"/>
<circle cx="373.3" cy="121.1" r="1.75" fill="#30E0A0"/>
<circle cx="394.2" cy="124.6" r="1.75" fill="#30E0A0"/>
<circle cx="415.0" cy="98.5" r="1.75" fill="#30E0A0"/>
<circle cx="435.9" cy="127.0" r="1.75" fill="#30E0A0"/>
<circle cx="456.8" cy="138.7" r="1.75" fill="#30E0A0"/>
<circle cx="477.7" cy="155.3" r="1.75" fill="#30E0A0"/>
<circle cx="498.6" cy="142.3" r="1.75" fill="#30E0A0"/>
<circle cx="310.6" cy="134.0" r="1.75" fill="#30E0C8"/>
<circle cx="331.5" cy="145.0" r="1.75" fill="#30E0C8"/>
<circle cx="352.4" cy="147.8" r="1.75" fill="#30E0C8"/>
<circle cx="373.3" cy="114.6" r="1.75" fill="#30E0C8"/>
<circle cx="394.2" cy="127.0" r="1.75" fill="#30E0C8"/>
<circle cx="415.0" cy="132.6" r="1.75" fill="#30E0C8"/>
<circle cx="435.9" cy="117.4" r="1.75" fill="#30E0C8"/>
<circle cx="456.8" cy="131.2" r="1.75" fill="#30E0C8"/>
<circle cx="477.7" cy="145.0" r="1.75" fill="#30E0C8"/>
<circle cx="498.6" cy="135.4" r="1.75" fill="#30E0C8"/>
<circle cx="310.6" cy="160.0" r="1.75" fill="#38E8F8"/>
<circle cx="331.5" cy="154.9" r="1.75" fill="#38E8F8"/>
<circle cx="352.4" cy="136.9" r="1.75" fill="#38E8F8"/>
<circle cx="373.3" cy="116.7" r="1.75" fill="#38E8F8"/>
<circle cx="394.2" cy="131.2" r="1.75" fill="#38E8F8"/>
<circle cx="415.0" cy="128.4" r="1.75" fill="#38E8F8"/>
<circle cx="435.9" cy="146.8" r="1.75" fill="#38E8F8"/>
<circle cx="456.8" cy="147.9" r="1.75" fill="#38E8F8"/>
<circle cx="477.7" cy="134.1" r="1.75" fill="#38E8F8"/>
<circle cx="498.6" cy="131.2" r="1.75" fill="#38E8F8"/>
<circle cx="310.6" cy="129.7" r="1.75" fill="#20A8E8"/>
<circle cx="331.5" cy="115.4" r="1.75" fill="#20A8E8"/>
<circle cx="352.4" cy="136.9" r="1.75" fill="#20A8E8"/>
<circle cx="373.3" cy="125.7" r="1.75" fill="#20A8E8"/>
<circle cx="394.2" cy="134.0" r="1.75" fill="#20A8E8"/>
<circle cx="415.0" cy="131.2" r="1.75" fill="#20A8E8"/>
<circle cx="435.9" cy="103.7" r="1.75" fill="#20A8E8"/>
<circle cx="456.8" cy="128.4" r="1.75" fill="#20A8E8"/>
<circle cx="477.7" cy="82.3" r="1.75" fill="#20A8E8"/>
<circle cx="498.6" cy="92.0" r="1.75" fill="#20A8E8"/>
<circle cx="310.6" cy="152.2" r="1.75" fill="#2C6EE0"/>
<circle cx="331.5" cy="150.3" r="1.75" fill="#2C6EE0"/>
<circle cx="352.4" cy="151.5" r="1.75" fill="#2C6EE0"/>
<circle cx="373.3" cy="109.7" r="1.75" fill="#2C6EE0"/>
<circle cx="394.2" cy="128.0" r="1.75" fill="#2C6EE0"/>
<circle cx="415.0" cy="126.2" r="1.75" fill="#2C6EE0"/>
<circle cx="435.9" cy="121.5" r="1.75" fill="#2C6EE0"/>
<circle cx="456.8" cy="109.9" r="1.75" fill="#2C6EE0"/>
<circle cx="477.7" cy="139.9" r="1.75" fill="#2C6EE0"/>
<circle cx="498.6" cy="102.3" r="1.75" fill="#2C6EE0"/>
<circle cx="310.6" cy="153.8" r="1.75" fill="#1A30B0"/>
<circle cx="331.5" cy="138.4" r="1.75" fill="#1A30B0"/>
<circle cx="352.4" cy="142.3" r="1.75" fill="#1A30B0"/>
<circle cx="373.3" cy="114.6" r="1.75" fill="#1A30B0"/>
<circle cx="394.2" cy="134.0" r="1.75" fill="#1A30B0"/>
<circle cx="415.0" cy="146.1" r="1.75" fill="#1A30B0"/>
<circle cx="435.9" cy="79.3" r="1.75" fill="#1A30B0"/>
<circle cx="456.8" cy="134.1" r="1.75" fill="#1A30B0"/>
<circle cx="477.7" cy="111.5" r="1.75" fill="#1A30B0"/>
<circle cx="498.6" cy="95.6" r="1.75" fill="#1A30B0"/>
<circle cx="310.6" cy="153.8" r="1.75" fill="#2218B0"/>
<circle cx="331.5" cy="153.3" r="1.75" fill="#2218B0"/>
<circle cx="352.4" cy="165.8" r="1.75" fill="#2218B0"/>
<circle cx="373.3" cy="131.2" r="1.75" fill="#2218B0"/>
<circle cx="394.2" cy="124.3" r="1.75" fill="#2218B0"/>
<circle cx="415.0" cy="135.4" r="1.75" fill="#2218B0"/>
<circle cx="435.9" cy="125.7" r="1.75" fill="#2218B0"/>
<circle cx="456.8" cy="131.2" r="1.75" fill="#2218B0"/>
<circle cx="477.7" cy="131.2" r="1.75" fill="#2218B0"/>
<circle cx="498.6" cy="134.0" r="1.75" fill="#2218B0"/>
<circle cx="310.6" cy="164.6" r="1.75" fill="#5A22F0"/>
<circle cx="331.5" cy="161.5" r="1.75" fill="#5A22F0"/>
<circle cx="352.4" cy="169.1" r="1.75" fill="#5A22F0"/>
<circle cx="373.3" cy="108.1" r="1.75" fill="#5A22F0"/>
<circle cx="394.2" cy="116.4" r="1.75" fill="#5A22F0"/>
<circle cx="415.0" cy="120.5" r="1.75" fill="#5A22F0"/>
<circle cx="435.9" cy="142.3" r="1.75" fill="#5A22F0"/>
<circle cx="456.8" cy="131.2" r="1.75" fill="#5A22F0"/>
<circle cx="477.7" cy="116.3" r="1.75" fill="#5A22F0"/>
<circle cx="498.6" cy="137.6" r="1.75" fill="#5A22F0"/>
<circle cx="310.6" cy="164.6" r="1.75" fill="#9020F0"/>
<circle cx="331.5" cy="158.9" r="1.75" fill="#9020F0"/>
<circle cx="352.4" cy="165.8" r="1.75" fill="#9020F0"/>
<circle cx="373.3" cy="108.1" r="1.75" fill="#9020F0"/>
<circle cx="394.2" cy="128.4" r="1.75" fill="#9020F0"/>
<circle cx="415.0" cy="127.0" r="1.75" fill="#9020F0"/>
<circle cx="435.9" cy="142.3" r="1.75" fill="#9020F0"/>
<circle cx="456.8" cy="87.6" r="1.75" fill="#9020F0"/>
<circle cx="477.7" cy="121.5" r="1.75" fill="#9020F0"/>
<circle cx="498.6" cy="151.4" r="1.75" fill="#9020F0"/>
<circle cx="310.6" cy="114.6" r="1.75" fill="#E038F8"/>
<circle cx="331.5" cy="121.5" r="1.75" fill="#E038F8"/>
<circle cx="352.4" cy="120.0" r="1.75" fill="#E038F8"/>
<circle cx="373.3" cy="127.0" r="1.75" fill="#E038F8"/>
<circle cx="394.2" cy="147.0" r="1.75" fill="#E038F8"/>
<circle cx="415.0" cy="129.7" r="1.75" fill="#E038F8"/>
<circle cx="435.9" cy="109.9" r="1.75" fill="#E038F8"/>
<circle cx="456.8" cy="119.9" r="1.75" fill="#E038F8"/>
<circle cx="477.7" cy="127.2" r="1.75" fill="#E038F8"/>
<circle cx="498.6" cy="131.8" r="1.75" fill="#E038F8"/>
<circle cx="310.6" cy="120.3" r="1.75" fill="#C030A8"/>
<circle cx="331.5" cy="121.5" r="1.75" fill="#C030A8"/>
<circle cx="352.4" cy="122.9" r="1.75" fill="#C030A8"/>
<circle cx="373.3" cy="131.2" r="1.75" fill="#C030A8"/>
<circle cx="394.2" cy="140.1" r="1.75" fill="#C030A8"/>
<circle cx="415.0" cy="132.3" r="1.75" fill="#C030A8"/>
<circle cx="435.9" cy="131.2" r="1.75" fill="#C030A8"/>
<circle cx="456.8" cy="143.4" r="1.75" fill="#C030A8"/>
<circle cx="477.7" cy="146.8" r="1.75" fill="#C030A8"/>
<circle cx="498.6" cy="131.2" r="1.75" fill="#C030A8"/>
<circle cx="310.6" cy="133.8" r="1.75" fill="#D03070"/>
<circle cx="331.5" cy="133.8" r="1.75" fill="#D03070"/>
<circle cx="352.4" cy="132.3" r="1.75" fill="#D03070"/>
<circle cx="373.3" cy="132.3" r="1.75" fill="#D03070"/>
<circle cx="394.2" cy="132.3" r="1.75" fill="#D03070"/>
<circle cx="415.0" cy="132.3" r="1.75" fill="#D03070"/>
<circle cx="435.9" cy="134.1" r="1.75" fill="#D03070"/>
<circle cx="456.8" cy="126.1" r="1.75" fill="#D03070"/>
<circle cx="477.7" cy="128.4" r="1.75" fill="#D03070"/>
<circle cx="498.6" cy="128.4" r="1.75" fill="#D03070"/>
<circle cx="310.6" cy="128.4" r="1.75" fill="#EE2040"/>
<circle cx="331.5" cy="131.2" r="1.75" fill="#EE2040"/>
<circle cx="352.4" cy="123.7" r="1.75" fill="#EE2040"/>
<circle cx="373.3" cy="131.2" r="1.75" fill="#EE2040"/>
<circle cx="394.2" cy="134.0" r="1.75" fill="#EE2040"/>
<circle cx="415.0" cy="134.0" r="1.75" fill="#EE2040"/>
<circle cx="435.9" cy="108.8" r="1.75" fill="#EE2040"/>
<circle cx="456.8" cy="124.8" r="1.75" fill="#EE2040"/>
<circle cx="477.7" cy="124.8" r="1.75" fill="#EE2040"/>
<circle cx="498.6" cy="129.8" r="1.75" fill="#EE2040"/>
<rect x="386.25" y="169.5" width="116.0" height="46.69999999999999" fill="#fff"/>
<clipPath id="cB"><rect x="386.25" y="169.5" width="116.0" height="46.69999999999999"/></clipPath>
<polygon clip-path="url(#cB)" fill="#bebebe" points="386.2,191.0 399.1,190.4 412.0,191.5 424.9,186.8 437.8,187.9 450.7,188.2 463.6,182.6 476.5,185.7 489.4,185.3 502.2,186.8 502.2,203.8 489.4,206.7 476.5,206.0 463.6,204.9 450.7,203.8 437.8,202.7 424.9,203.8 412.0,211.0 399.1,209.2 386.2,207.8"/>
<line x1="386.25" y1="196.55" x2="502.25" y2="196.55" stroke="#222" stroke-width="1.1" stroke-dasharray="3.5 3.5"/>
<line x1="418.47" y1="169.5" x2="418.47" y2="216.2" stroke="#222" stroke-width="1.1" stroke-dasharray="3.5 3.5"/>
<line x1="450.69" y1="169.5" x2="450.69" y2="216.2" stroke="#222" stroke-width="1.1" stroke-dasharray="3.5 3.5"/>
<polyline clip-path="url(#cB)" fill="none" stroke="#000" stroke-width="1.1" points="386.2,199.4 399.1,199.4 412.0,200.9 424.9,194.2 437.8,195.1 450.7,196.2 463.6,193.7 476.5,196.2 489.4,196.6 502.2,196.2"/>
<rect x="386.25" y="169.5" width="116.0" height="46.69999999999999" fill="none" stroke="#000" stroke-width="1.1"/>
<line x1="382.75" y1="178.45" x2="386.25" y2="178.45" stroke="#000" stroke-width="1"/>
<text x="379.65" y="181.95" font-size="9.8" text-anchor="end">0.5</text>
<line x1="382.75" y1="196.55" x2="386.25" y2="196.55" stroke="#000" stroke-width="1"/>
<text x="379.65" y="200.05" font-size="9.8" text-anchor="end">0</text>
<line x1="382.75" y1="214.65" x2="386.25" y2="214.65" stroke="#000" stroke-width="1"/>
<text x="379.65" y="218.15" font-size="9.8" text-anchor="end">−0.5</text>
<rect x="303.59999999999997" y="20.3" width="202.3" height="200.79999999999998" fill="none" stroke="#1a1a1a" stroke-width="1.05"/>
<line x1="297.49999999999994" y1="27.40" x2="303.59999999999997" y2="27.40" stroke="#111" stroke-width="1.1"/>
<text x="292.45" y="31.90" font-size="12.2" text-anchor="end">0.75</text>
<line x1="297.49999999999994" y1="62.00" x2="303.59999999999997" y2="62.00" stroke="#111" stroke-width="1.1"/>
<text x="292.45" y="66.50" font-size="12.2" text-anchor="end">0.5</text>
<line x1="297.49999999999994" y1="96.60" x2="303.59999999999997" y2="96.60" stroke="#111" stroke-width="1.1"/>
<text x="292.45" y="101.10" font-size="12.2" text-anchor="end">0.25</text>
<line x1="297.49999999999994" y1="131.20" x2="303.59999999999997" y2="131.20" stroke="#111" stroke-width="1.1"/>
<text x="292.45" y="135.70" font-size="12.2" text-anchor="end">0</text>
<line x1="297.49999999999994" y1="165.80" x2="303.59999999999997" y2="165.80" stroke="#111" stroke-width="1.1"/>
<text x="292.45" y="170.30" font-size="12.2" text-anchor="end">−0.25</text>
<line x1="297.49999999999994" y1="200.40" x2="303.59999999999997" y2="200.40" stroke="#111" stroke-width="1.1"/>
<text x="292.45" y="204.90" font-size="12.2" text-anchor="end">−0.5</text>
<text x="331.53" y="18" font-size="14.1" text-anchor="middle">Batch 1</text>
<text x="394.17" y="18" font-size="14.1" text-anchor="middle">Batch 2</text>
<text x="467.25" y="18" font-size="14.1" text-anchor="middle">Batch 3</text>
<text transform="translate(265.45,12.1) scale(0.93,1)" font-size="14.3" font-weight="bold">B</text>
<text transform="translate(266.65,120.9) rotate(-90)" font-size="14.4" text-anchor="middle">Drift</text>
<text x="394.55" y="245" font-size="14.3" text-anchor="middle">HPS run order</text>
<line x1="47.4" y1="301.80" x2="250.5" y2="301.80" stroke="#d2d2d2" stroke-width="1" stroke-dasharray="3.5 3.5"/>
<line x1="47.4" y1="336.40" x2="250.5" y2="336.40" stroke="#d2d2d2" stroke-width="1" stroke-dasharray="3.5 3.5"/>
<line x1="47.4" y1="371.00" x2="250.5" y2="371.00" stroke="#d2d2d2" stroke-width="1" stroke-dasharray="3.5 3.5"/>
<line x1="47.4" y1="405.60" x2="250.5" y2="405.60" stroke="#d2d2d2" stroke-width="1" stroke-dasharray="3.5 3.5"/>
<line x1="47.4" y1="440.20" x2="250.5" y2="440.20" stroke="#d2d2d2" stroke-width="1" stroke-dasharray="3.5 3.5"/>
<line x1="47.4" y1="474.80" x2="250.5" y2="474.80" stroke="#d2d2d2" stroke-width="1" stroke-dasharray="3.5 3.5"/>
<line x1="107.10" y1="294.7" x2="107.10" y2="495.8" stroke="#303030" stroke-width="1.1" stroke-dasharray="3.6 3.6" stroke-dashoffset="2.6"/>
<line x1="169.74" y1="294.7" x2="169.74" y2="495.8" stroke="#303030" stroke-width="1.1" stroke-dasharray="3.6 3.6" stroke-dashoffset="2.6"/>
<polyline fill="none" stroke="#CC2028" stroke-width="0.95" points="54.9,412.0 75.8,428.9 96.7,412.0 117.5,392.7 138.4,417.8 159.3,396.6 180.2,381.2 201.1,407.3 221.9,399.5 242.8,395.6"/>
<polyline fill="none" stroke="#EE5528" stroke-width="0.95" points="54.9,448.0 75.8,446.2 96.7,454.2 117.5,405.6 138.4,408.4 159.3,400.1 180.2,343.6 201.1,405.6 221.9,413.9 242.8,402.8"/>
<polyline fill="none" stroke="#F08A1E" stroke-width="0.95" points="54.9,388.9 75.8,412.5 96.7,419.4 117.5,381.1 138.4,396.6 159.3,397.3 180.2,341.8 201.1,405.6 221.9,401.4 242.8,423.5"/>
<polyline fill="none" stroke="#F5C518" stroke-width="0.95" points="54.9,412.5 75.8,419.6 96.7,433.3 117.5,405.6 138.4,397.3 159.3,362.0 180.2,384.8 201.1,409.8 221.9,423.5 242.8,402.8"/>
<polyline fill="none" stroke="#E8EC30" stroke-width="0.95" points="54.9,415.3 75.8,418.1 96.7,437.3 117.5,408.4 138.4,424.4 159.3,405.6 180.2,389.0 201.1,408.4 221.9,398.7 242.8,368.8"/>
<polyline fill="none" stroke="#B4EA3A" stroke-width="0.95" points="54.9,413.9 75.8,416.7 96.7,433.3 117.5,405.6 138.4,382.2 159.3,391.8 180.2,384.8 201.1,405.6 221.9,397.3 242.8,368.8"/>
<polyline fill="none" stroke="#7CEB3C" stroke-width="0.95" points="54.9,401.9 75.8,415.3 96.7,429.7 117.5,409.8 138.4,385.1 159.3,380.7 180.2,389.8 201.1,409.1 221.9,402.8 242.8,398.7"/>
<polyline fill="none" stroke="#22DD22" stroke-width="0.95" points="54.9,419.4 75.8,416.7 96.7,429.7 117.5,405.6 138.4,391.8 159.3,391.8 180.2,388.0 201.1,405.6 221.9,405.6 242.8,401.4"/>
<polyline fill="none" stroke="#26E060" stroke-width="0.95" points="54.9,421.1 75.8,418.1 96.7,426.4 117.5,404.2 138.4,394.5 159.3,389.0 180.2,377.9 201.1,408.4 221.9,402.8 242.8,405.6"/>
<polyline fill="none" stroke="#30E0A0" stroke-width="0.95" points="54.9,421.1 75.8,413.9 96.7,425.7 117.5,411.1 138.4,421.7 159.3,402.8 180.2,364.1 201.1,412.5 221.9,405.6 242.8,377.4"/>
<polyline fill="none" stroke="#30E0C8" stroke-width="0.95" points="54.9,418.1 75.8,412.5 96.7,425.7 117.5,412.5 138.4,405.6 159.3,405.6 180.2,377.9 201.1,413.9 221.9,405.6 242.8,374.9"/>
<polyline fill="none" stroke="#38E8F8" stroke-width="0.95" points="54.9,414.3 75.8,408.8 96.7,425.7 117.5,413.9 138.4,408.4 159.3,404.2 180.2,371.0 201.1,417.8 221.9,405.6 242.8,374.9"/>
<polyline fill="none" stroke="#20A8E8" stroke-width="0.95" points="54.9,418.1 75.8,408.8 96.7,419.4 117.5,415.3 138.4,411.1 159.3,405.6 180.2,355.4 201.1,417.8 221.9,358.1 242.8,388.0"/>
<polyline fill="none" stroke="#2C6EE0" stroke-width="0.95" points="54.9,425.0 75.8,415.7 96.7,444.9 117.5,419.7 138.4,413.9 159.3,407.3 180.2,377.9 201.1,401.4 221.9,404.4 242.8,392.7"/>
<polyline fill="none" stroke="#1A30B0" stroke-width="0.95" points="54.9,418.1 75.8,411.1 96.7,442.7 117.5,395.6 138.4,405.6 159.3,407.3 180.2,351.9 201.1,391.3 221.9,404.4 242.8,388.0"/>
<polyline fill="none" stroke="#2218B0" stroke-width="0.95" points="54.9,408.8 75.8,396.5 96.7,423.6 117.5,397.3 138.4,401.4 159.3,405.6 180.2,377.9 201.1,401.4 221.9,387.1 242.8,392.7"/>
<polyline fill="none" stroke="#5A22F0" stroke-width="0.95" points="54.9,408.8 75.8,425.7 96.7,432.6 117.5,411.0 138.4,400.5 159.3,403.2 180.2,374.5 201.1,413.9 221.9,387.1 242.8,400.5"/>
<polyline fill="none" stroke="#9020F0" stroke-width="0.95" points="54.9,439.5 75.8,425.7 96.7,432.6 117.5,411.0 138.4,400.5 159.3,403.2 180.2,374.5 201.1,413.9 221.9,391.8 242.8,400.5"/>
<polyline fill="none" stroke="#E038F8" stroke-width="0.95" points="54.9,405.0 75.8,425.7 96.7,420.3 117.5,403.2 138.4,404.4 159.3,400.5 180.2,377.4 201.1,404.4 221.9,408.1 242.8,385.1"/>
<polyline fill="none" stroke="#C030A8" stroke-width="0.95" points="54.9,407.3 75.8,419.4 96.7,420.3 117.5,407.3 138.4,427.3 159.3,403.2 180.2,370.7 201.1,397.6 221.9,391.8 242.8,405.3"/>
<polyline fill="none" stroke="#D03070" stroke-width="0.95" points="54.9,407.3 75.8,412.7 96.7,415.7 117.5,400.5 138.4,408.1 159.3,400.5 180.2,383.2 201.1,415.8 221.9,393.7 242.8,405.3"/>
<polyline fill="none" stroke="#EE2040" stroke-width="0.95" points="54.9,412.0 75.8,428.9 96.7,415.7 117.5,400.5 138.4,417.8 159.3,396.6 180.2,381.2 201.1,407.3 221.9,413.9 242.8,395.6"/>
<circle cx="54.9" cy="412.0" r="1.75" fill="#CC2028"/>
<circle cx="75.8" cy="428.9" r="1.75" fill="#CC2028"/>
<circle cx="96.7" cy="412.0" r="1.75" fill="#CC2028"/>
<circle cx="117.5" cy="392.7" r="1.75" fill="#CC2028"/>
<circle cx="138.4" cy="417.8" r="1.75" fill="#CC2028"/>
<circle cx="159.3" cy="396.6" r="1.75" fill="#CC2028"/>
<circle cx="180.2" cy="381.2" r="1.75" fill="#CC2028"/>
<circle cx="201.1" cy="407.3" r="1.75" fill="#CC2028"/>
<circle cx="221.9" cy="399.5" r="1.75" fill="#CC2028"/>
<circle cx="242.8" cy="395.6" r="1.75" fill="#CC2028"/>
<circle cx="54.9" cy="448.0" r="1.75" fill="#EE5528"/>
<circle cx="75.8" cy="446.2" r="1.75" fill="#EE5528"/>
<circle cx="96.7" cy="454.2" r="1.75" fill="#EE5528"/>
<circle cx="117.5" cy="405.6" r="1.75" fill="#EE5528"/>
<circle cx="138.4" cy="408.4" r="1.75" fill="#EE5528"/>
<circle cx="159.3" cy="400.1" r="1.75" fill="#EE5528"/>
<circle cx="180.2" cy="343.6" r="1.75" fill="#EE5528"/>
<circle cx="201.1" cy="405.6" r="1.75" fill="#EE5528"/>
<circle cx="221.9" cy="413.9" r="1.75" fill="#EE5528"/>
<circle cx="242.8" cy="402.8" r="1.75" fill="#EE5528"/>
<circle cx="54.9" cy="388.9" r="1.75" fill="#F08A1E"/>
<circle cx="75.8" cy="412.5" r="1.75" fill="#F08A1E"/>
<circle cx="96.7" cy="419.4" r="1.75" fill="#F08A1E"/>
<circle cx="117.5" cy="381.1" r="1.75" fill="#F08A1E"/>
<circle cx="138.4" cy="396.6" r="1.75" fill="#F08A1E"/>
<circle cx="159.3" cy="397.3" r="1.75" fill="#F08A1E"/>
<circle cx="180.2" cy="341.8" r="1.75" fill="#F08A1E"/>
<circle cx="201.1" cy="405.6" r="1.75" fill="#F08A1E"/>
<circle cx="221.9" cy="401.4" r="1.75" fill="#F08A1E"/>
<circle cx="242.8" cy="423.5" r="1.75" fill="#F08A1E"/>
<circle cx="54.9" cy="412.5" r="1.75" fill="#F5C518"/>
<circle cx="75.8" cy="419.6" r="1.75" fill="#F5C518"/>
<circle cx="96.7" cy="433.3" r="1.75" fill="#F5C518"/>
<circle cx="117.5" cy="405.6" r="1.75" fill="#F5C518"/>
<circle cx="138.4" cy="397.3" r="1.75" fill="#F5C518"/>
<circle cx="159.3" cy="362.0" r="1.75" fill="#F5C518"/>
<circle cx="180.2" cy="384.8" r="1.75" fill="#F5C518"/>
<circle cx="201.1" cy="409.8" r="1.75" fill="#F5C518"/>
<circle cx="221.9" cy="423.5" r="1.75" fill="#F5C518"/>
<circle cx="242.8" cy="402.8" r="1.75" fill="#F5C518"/>
<circle cx="54.9" cy="415.3" r="1.75" fill="#E8EC30"/>
<circle cx="75.8" cy="418.1" r="1.75" fill="#E8EC30"/>
<circle cx="96.7" cy="437.3" r="1.75" fill="#E8EC30"/>
<circle cx="117.5" cy="408.4" r="1.75" fill="#E8EC30"/>
<circle cx="138.4" cy="424.4" r="1.75" fill="#E8EC30"/>
<circle cx="159.3" cy="405.6" r="1.75" fill="#E8EC30"/>
<circle cx="180.2" cy="389.0" r="1.75" fill="#E8EC30"/>
<circle cx="201.1" cy="408.4" r="1.75" fill="#E8EC30"/>
<circle cx="221.9" cy="398.7" r="1.75" fill="#E8EC30"/>
<circle cx="242.8" cy="368.8" r="1.75" fill="#E8EC30"/>
<circle cx="54.9" cy="413.9" r="1.75" fill="#B4EA3A"/>
<circle cx="75.8" cy="416.7" r="1.75" fill="#B4EA3A"/>
<circle cx="96.7" cy="433.3" r="1.75" fill="#B4EA3A"/>
<circle cx="117.5" cy="405.6" r="1.75" fill="#B4EA3A"/>
<circle cx="138.4" cy="382.2" r="1.75" fill="#B4EA3A"/>
<circle cx="159.3" cy="391.8" r="1.75" fill="#B4EA3A"/>
<circle cx="180.2" cy="384.8" r="1.75" fill="#B4EA3A"/>
<circle cx="201.1" cy="405.6" r="1.75" fill="#B4EA3A"/>
<circle cx="221.9" cy="397.3" r="1.75" fill="#B4EA3A"/>
<circle cx="242.8" cy="368.8" r="1.75" fill="#B4EA3A"/>
<circle cx="54.9" cy="401.9" r="1.75" fill="#7CEB3C"/>
<circle cx="75.8" cy="415.3" r="1.75" fill="#7CEB3C"/>
<circle cx="96.7" cy="429.7" r="1.75" fill="#7CEB3C"/>
<circle cx="117.5" cy="409.8" r="1.75" fill="#7CEB3C"/>
<circle cx="138.4" cy="385.1" r="1.75" fill="#7CEB3C"/>
<circle cx="159.3" cy="380.7" r="1.75" fill="#7CEB3C"/>
<circle cx="180.2" cy="389.8" r="1.75" fill="#7CEB3C"/>
<circle cx="201.1" cy="409.1" r="1.75" fill="#7CEB3C"/>
<circle cx="221.9" cy="402.8" r="1.75" fill="#7CEB3C"/>
<circle cx="242.8" cy="398.7" r="1.75" fill="#7CEB3C"/>
<circle cx="54.9" cy="419.4" r="1.75" fill="#22DD22"/>
<circle cx="75.8" cy="416.7" r="1.75" fill="#22DD22"/>
<circle cx="96.7" cy="429.7" r="1.75" fill="#22DD22"/>
<circle cx="117.5" cy="405.6" r="1.75" fill="#22DD22"/>
<circle cx="138.4" cy="391.8" r="1.75" fill="#22DD22"/>
<circle cx="159.3" cy="391.8" r="1.75" fill="#22DD22"/>
<circle cx="180.2" cy="388.0" r="1.75" fill="#22DD22"/>
<circle cx="201.1" cy="405.6" r="1.75" fill="#22DD22"/>
<circle cx="221.9" cy="405.6" r="1.75" fill="#22DD22"/>
<circle cx="242.8" cy="401.4" r="1.75" fill="#22DD22"/>
<circle cx="54.9" cy="421.1" r="1.75" fill="#26E060"/>
<circle cx="75.8" cy="418.1" r="1.75" fill="#26E060"/>
<circle cx="96.7" cy="426.4" r="1.75" fill="#26E060"/>
<circle cx="117.5" cy="404.2" r="1.75" fill="#26E060"/>
<circle cx="138.4" cy="394.5" r="1.75" fill="#26E060"/>
<circle cx="159.3" cy="389.0" r="1.75" fill="#26E060"/>
<circle cx="180.2" cy="377.9" r="1.75" fill="#26E060"/>
<circle cx="201.1" cy="408.4" r="1.75" fill="#26E060"/>
<circle cx="221.9" cy="402.8" r="1.75" fill="#26E060"/>
<circle cx="242.8" cy="405.6" r="1.75" fill="#26E060"/>
<circle cx="54.9" cy="421.1" r="1.75" fill="#30E0A0"/>
<circle cx="75.8" cy="413.9" r="1.75" fill="#30E0A0"/>
<circle cx="96.7" cy="425.7" r="1.75" fill="#30E0A0"/>
<circle cx="117.5" cy="411.1" r="1.75" fill="#30E0A0"/>
<circle cx="138.4" cy="421.7" r="1.75" fill="#30E0A0"/>
<circle cx="159.3" cy="402.8" r="1.75" fill="#30E0A0"/>
<circle cx="180.2" cy="364.1" r="1.75" fill="#30E0A0"/>
<circle cx="201.1" cy="412.5" r="1.75" fill="#30E0A0"/>
<circle cx="221.9" cy="405.6" r="1.75" fill="#30E0A0"/>
<circle cx="242.8" cy="377.4" r="1.75" fill="#30E0A0"/>
<circle cx="54.9" cy="418.1" r="1.75" fill="#30E0C8"/>
<circle cx="75.8" cy="412.5" r="1.75" fill="#30E0C8"/>
<circle cx="96.7" cy="425.7" r="1.75" fill="#30E0C8"/>
<circle cx="117.5" cy="412.5" r="1.75" fill="#30E0C8"/>
<circle cx="138.4" cy="405.6" r="1.75" fill="#30E0C8"/>
<circle cx="159.3" cy="405.6" r="1.75" fill="#30E0C8"/>
<circle cx="180.2" cy="377.9" r="1.75" fill="#30E0C8"/>
<circle cx="201.1" cy="413.9" r="1.75" fill="#30E0C8"/>
<circle cx="221.9" cy="405.6" r="1.75" fill="#30E0C8"/>
<circle cx="242.8" cy="374.9" r="1.75" fill="#30E0C8"/>
<circle cx="54.9" cy="414.3" r="1.75" fill="#38E8F8"/>
<circle cx="75.8" cy="408.8" r="1.75" fill="#38E8F8"/>
<circle cx="96.7" cy="425.7" r="1.75" fill="#38E8F8"/>
<circle cx="117.5" cy="413.9" r="1.75" fill="#38E8F8"/>
<circle cx="138.4" cy="408.4" r="1.75" fill="#38E8F8"/>
<circle cx="159.3" cy="404.2" r="1.75" fill="#38E8F8"/>
<circle cx="180.2" cy="371.0" r="1.75" fill="#38E8F8"/>
<circle cx="201.1" cy="417.8" r="1.75" fill="#38E8F8"/>
<circle cx="221.9" cy="405.6" r="1.75" fill="#38E8F8"/>
<circle cx="242.8" cy="374.9" r="1.75" fill="#38E8F8"/>
<circle cx="54.9" cy="418.1" r="1.75" fill="#20A8E8"/>
<circle cx="75.8" cy="408.8" r="1.75" fill="#20A8E8"/>
<circle cx="96.7" cy="419.4" r="1.75" fill="#20A8E8"/>
<circle cx="117.5" cy="415.3" r="1.75" fill="#20A8E8"/>
<circle cx="138.4" cy="411.1" r="1.75" fill="#20A8E8"/>
<circle cx="159.3" cy="405.6" r="1.75" fill="#20A8E8"/>
<circle cx="180.2" cy="355.4" r="1.75" fill="#20A8E8"/>
<circle cx="201.1" cy="417.8" r="1.75" fill="#20A8E8"/>
<circle cx="221.9" cy="358.1" r="1.75" fill="#20A8E8"/>
<circle cx="242.8" cy="388.0" r="1.75" fill="#20A8E8"/>
<circle cx="54.9" cy="425.0" r="1.75" fill="#2C6EE0"/>
<circle cx="75.8" cy="415.7" r="1.75" fill="#2C6EE0"/>
<circle cx="96.7" cy="444.9" r="1.75" fill="#2C6EE0"/>
<circle cx="117.5" cy="419.7" r="1.75" fill="#2C6EE0"/>
<circle cx="138.4" cy="413.9" r="1.75" fill="#2C6EE0"/>
<circle cx="159.3" cy="407.3" r="1.75" fill="#2C6EE0"/>
<circle cx="180.2" cy="377.9" r="1.75" fill="#2C6EE0"/>
<circle cx="201.1" cy="401.4" r="1.75" fill="#2C6EE0"/>
<circle cx="221.9" cy="404.4" r="1.75" fill="#2C6EE0"/>
<circle cx="242.8" cy="392.7" r="1.75" fill="#2C6EE0"/>
<circle cx="54.9" cy="418.1" r="1.75" fill="#1A30B0"/>
<circle cx="75.8" cy="411.1" r="1.75" fill="#1A30B0"/>
<circle cx="96.7" cy="442.7" r="1.75" fill="#1A30B0"/>
<circle cx="117.5" cy="395.6" r="1.75" fill="#1A30B0"/>
<circle cx="138.4" cy="405.6" r="1.75" fill="#1A30B0"/>
<circle cx="159.3" cy="407.3" r="1.75" fill="#1A30B0"/>
<circle cx="180.2" cy="351.9" r="1.75" fill="#1A30B0"/>
<circle cx="201.1" cy="391.3" r="1.75" fill="#1A30B0"/>
<circle cx="221.9" cy="404.4" r="1.75" fill="#1A30B0"/>
<circle cx="242.8" cy="388.0" r="1.75" fill="#1A30B0"/>
<circle cx="54.9" cy="408.8" r="1.75" fill="#2218B0"/>
<circle cx="75.8" cy="396.5" r="1.75" fill="#2218B0"/>
<circle cx="96.7" cy="423.6" r="1.75" fill="#2218B0"/>
<circle cx="117.5" cy="397.3" r="1.75" fill="#2218B0"/>
<circle cx="138.4" cy="401.4" r="1.75" fill="#2218B0"/>
<circle cx="159.3" cy="405.6" r="1.75" fill="#2218B0"/>
<circle cx="180.2" cy="377.9" r="1.75" fill="#2218B0"/>
<circle cx="201.1" cy="401.4" r="1.75" fill="#2218B0"/>
<circle cx="221.9" cy="387.1" r="1.75" fill="#2218B0"/>
<circle cx="242.8" cy="392.7" r="1.75" fill="#2218B0"/>
<circle cx="54.9" cy="408.8" r="1.75" fill="#5A22F0"/>
<circle cx="75.8" cy="425.7" r="1.75" fill="#5A22F0"/>
<circle cx="96.7" cy="432.6" r="1.75" fill="#5A22F0"/>
<circle cx="117.5" cy="411.0" r="1.75" fill="#5A22F0"/>
<circle cx="138.4" cy="400.5" r="1.75" fill="#5A22F0"/>
<circle cx="159.3" cy="403.2" r="1.75" fill="#5A22F0"/>
<circle cx="180.2" cy="374.5" r="1.75" fill="#5A22F0"/>
<circle cx="201.1" cy="413.9" r="1.75" fill="#5A22F0"/>
<circle cx="221.9" cy="387.1" r="1.75" fill="#5A22F0"/>
<circle cx="242.8" cy="400.5" r="1.75" fill="#5A22F0"/>
<circle cx="54.9" cy="439.5" r="1.75" fill="#9020F0"/>
<circle cx="75.8" cy="425.7" r="1.75" fill="#9020F0"/>
<circle cx="96.7" cy="432.6" r="1.75" fill="#9020F0"/>
<circle cx="117.5" cy="411.0" r="1.75" fill="#9020F0"/>
<circle cx="138.4" cy="400.5" r="1.75" fill="#9020F0"/>
<circle cx="159.3" cy="403.2" r="1.75" fill="#9020F0"/>
<circle cx="180.2" cy="374.5" r="1.75" fill="#9020F0"/>
<circle cx="201.1" cy="413.9" r="1.75" fill="#9020F0"/>
<circle cx="221.9" cy="391.8" r="1.75" fill="#9020F0"/>
<circle cx="242.8" cy="400.5" r="1.75" fill="#9020F0"/>
<circle cx="54.9" cy="405.0" r="1.75" fill="#E038F8"/>
<circle cx="75.8" cy="425.7" r="1.75" fill="#E038F8"/>
<circle cx="96.7" cy="420.3" r="1.75" fill="#E038F8"/>
<circle cx="117.5" cy="403.2" r="1.75" fill="#E038F8"/>
<circle cx="138.4" cy="404.4" r="1.75" fill="#E038F8"/>
<circle cx="159.3" cy="400.5" r="1.75" fill="#E038F8"/>
<circle cx="180.2" cy="377.4" r="1.75" fill="#E038F8"/>
<circle cx="201.1" cy="404.4" r="1.75" fill="#E038F8"/>
<circle cx="221.9" cy="408.1" r="1.75" fill="#E038F8"/>
<circle cx="242.8" cy="385.1" r="1.75" fill="#E038F8"/>
<circle cx="54.9" cy="407.3" r="1.75" fill="#C030A8"/>
<circle cx="75.8" cy="419.4" r="1.75" fill="#C030A8"/>
<circle cx="96.7" cy="420.3" r="1.75" fill="#C030A8"/>
<circle cx="117.5" cy="407.3" r="1.75" fill="#C030A8"/>
<circle cx="138.4" cy="427.3" r="1.75" fill="#C030A8"/>
<circle cx="159.3" cy="403.2" r="1.75" fill="#C030A8"/>
<circle cx="180.2" cy="370.7" r="1.75" fill="#C030A8"/>
<circle cx="201.1" cy="397.6" r="1.75" fill="#C030A8"/>
<circle cx="221.9" cy="391.8" r="1.75" fill="#C030A8"/>
<circle cx="242.8" cy="405.3" r="1.75" fill="#C030A8"/>
<circle cx="54.9" cy="407.3" r="1.75" fill="#D03070"/>
<circle cx="75.8" cy="412.7" r="1.75" fill="#D03070"/>
<circle cx="96.7" cy="415.7" r="1.75" fill="#D03070"/>
<circle cx="117.5" cy="400.5" r="1.75" fill="#D03070"/>
<circle cx="138.4" cy="408.1" r="1.75" fill="#D03070"/>
<circle cx="159.3" cy="400.5" r="1.75" fill="#D03070"/>
<circle cx="180.2" cy="383.2" r="1.75" fill="#D03070"/>
<circle cx="201.1" cy="415.8" r="1.75" fill="#D03070"/>
<circle cx="221.9" cy="393.7" r="1.75" fill="#D03070"/>
<circle cx="242.8" cy="405.3" r="1.75" fill="#D03070"/>
<circle cx="54.9" cy="412.0" r="1.75" fill="#EE2040"/>
<circle cx="75.8" cy="428.9" r="1.75" fill="#EE2040"/>
<circle cx="96.7" cy="415.7" r="1.75" fill="#EE2040"/>
<circle cx="117.5" cy="400.5" r="1.75" fill="#EE2040"/>
<circle cx="138.4" cy="417.8" r="1.75" fill="#EE2040"/>
<circle cx="159.3" cy="396.6" r="1.75" fill="#EE2040"/>
<circle cx="180.2" cy="381.2" r="1.75" fill="#EE2040"/>
<circle cx="201.1" cy="407.3" r="1.75" fill="#EE2040"/>
<circle cx="221.9" cy="413.9" r="1.75" fill="#EE2040"/>
<circle cx="242.8" cy="395.6" r="1.75" fill="#EE2040"/>
<rect x="130.5" y="444.4" width="116.0" height="46.69999999999999" fill="#fff"/>
<clipPath id="cC"><rect x="130.5" y="444.4" width="116.0" height="46.69999999999999"/></clipPath>
<polygon clip-path="url(#cC)" fill="#bebebe" points="130.5,467.6 143.4,469.6 156.3,471.4 169.2,467.6 182.1,466.7 194.9,464.6 207.8,455.0 220.7,467.1 233.6,462.4 246.5,462.4 246.5,475.1 233.6,475.8 220.7,475.8 207.8,471.4 194.9,475.1 182.1,476.9 169.2,478.0 156.3,483.4 143.4,482.3 130.5,481.2"/>
<line x1="130.5" y1="471.45" x2="246.5" y2="471.45" stroke="#222" stroke-width="1.1" stroke-dasharray="3.5 3.5"/>
<line x1="162.72" y1="444.4" x2="162.72" y2="491.09999999999997" stroke="#222" stroke-width="1.1" stroke-dasharray="3.5 3.5"/>
<line x1="194.94" y1="444.4" x2="194.94" y2="491.09999999999997" stroke="#222" stroke-width="1.1" stroke-dasharray="3.5 3.5"/>
<polyline clip-path="url(#cC)" fill="none" stroke="#000" stroke-width="1.1" points="130.5,474.0 143.4,475.4 156.3,477.6 169.2,471.4 182.1,471.4 194.9,469.3 207.8,462.4 220.7,471.4 233.6,470.0 246.5,468.7"/>
<rect x="130.5" y="444.4" width="116.0" height="46.69999999999999" fill="none" stroke="#000" stroke-width="1.1"/>
<line x1="127.0" y1="453.35" x2="130.5" y2="453.35" stroke="#000" stroke-width="1"/>
<text x="123.9" y="456.85" font-size="9.8" text-anchor="end">0.5</text>
<line x1="127.0" y1="471.45" x2="130.5" y2="471.45" stroke="#000" stroke-width="1"/>
<text x="123.9" y="474.95" font-size="9.8" text-anchor="end">0</text>
<line x1="127.0" y1="489.55" x2="130.5" y2="489.55" stroke="#000" stroke-width="1"/>
<text x="123.9" y="493.05" font-size="9.8" text-anchor="end">−0.5</text>
<rect x="47.4" y="294.7" width="203.1" height="201.10000000000002" fill="none" stroke="#1a1a1a" stroke-width="1.05"/>
<line x1="41.3" y1="301.80" x2="47.4" y2="301.80" stroke="#111" stroke-width="1.1"/>
<text x="36.7" y="306.30" font-size="12.2" text-anchor="end">0.75</text>
<line x1="41.3" y1="336.40" x2="47.4" y2="336.40" stroke="#111" stroke-width="1.1"/>
<text x="36.7" y="340.90" font-size="12.2" text-anchor="end">0.5</text>
<line x1="41.3" y1="371.00" x2="47.4" y2="371.00" stroke="#111" stroke-width="1.1"/>
<text x="36.7" y="375.50" font-size="12.2" text-anchor="end">0.25</text>
<line x1="41.3" y1="405.60" x2="47.4" y2="405.60" stroke="#111" stroke-width="1.1"/>
<text x="36.7" y="410.10" font-size="12.2" text-anchor="end">0</text>
<line x1="41.3" y1="440.20" x2="47.4" y2="440.20" stroke="#111" stroke-width="1.1"/>
<text x="36.7" y="444.70" font-size="12.2" text-anchor="end">−0.25</text>
<line x1="41.3" y1="474.80" x2="47.4" y2="474.80" stroke="#111" stroke-width="1.1"/>
<text x="36.7" y="479.30" font-size="12.2" text-anchor="end">−0.5</text>
<text x="75.78" y="292.4" font-size="14.1" text-anchor="middle">Batch 1</text>
<text x="138.42" y="292.4" font-size="14.1" text-anchor="middle">Batch 2</text>
<text x="211.50" y="292.4" font-size="14.1" text-anchor="middle">Batch 3</text>
<text transform="translate(9.7,286.5) scale(0.93,1)" font-size="14.3" font-weight="bold">C</text>
<text transform="translate(10.9,395.29999999999995) rotate(-90)" font-size="14.4" text-anchor="middle">Drift</text>
<text x="138.8" y="519.4" font-size="14.3" text-anchor="middle">HPS run order</text>
<line x1="303.59999999999997" y1="301.80" x2="505.9" y2="301.80" stroke="#d2d2d2" stroke-width="1" stroke-dasharray="3.5 3.5"/>
<line x1="303.59999999999997" y1="336.40" x2="505.9" y2="336.40" stroke="#d2d2d2" stroke-width="1" stroke-dasharray="3.5 3.5"/>
<line x1="303.59999999999997" y1="371.00" x2="505.9" y2="371.00" stroke="#d2d2d2" stroke-width="1" stroke-dasharray="3.5 3.5"/>
<line x1="303.59999999999997" y1="405.60" x2="505.9" y2="405.60" stroke="#d2d2d2" stroke-width="1" stroke-dasharray="3.5 3.5"/>
<line x1="303.59999999999997" y1="440.20" x2="505.9" y2="440.20" stroke="#d2d2d2" stroke-width="1" stroke-dasharray="3.5 3.5"/>
<line x1="303.59999999999997" y1="474.80" x2="505.9" y2="474.80" stroke="#d2d2d2" stroke-width="1" stroke-dasharray="3.5 3.5"/>
<line x1="362.85" y1="294.7" x2="362.85" y2="495.8" stroke="#303030" stroke-width="1.1" stroke-dasharray="3.6 3.6" stroke-dashoffset="2.6"/>
<line x1="425.49" y1="294.7" x2="425.49" y2="495.8" stroke="#303030" stroke-width="1.1" stroke-dasharray="3.6 3.6" stroke-dashoffset="2.6"/>
<polyline fill="none" stroke="#CC2028" stroke-width="0.95" points="310.6,402.7 331.5,412.0 352.4,388.9 373.3,412.5 394.2,408.0 415.0,402.6 435.9,403.4 456.8,426.1 477.7,425.1 498.6,394.5"/>
<polyline fill="none" stroke="#EE5528" stroke-width="0.95" points="310.6,440.9 331.5,428.0 352.4,429.7 373.3,381.9 394.2,405.6 415.0,409.8 435.9,367.3 456.8,392.7 477.7,409.2 498.6,426.1"/>
<polyline fill="none" stroke="#F08A1E" stroke-width="0.95" points="310.6,388.0 331.5,398.7 352.4,405.6 373.3,381.9 394.2,405.6 415.0,405.6 435.9,377.9 456.8,392.7 477.7,408.4 498.6,426.1"/>
<polyline fill="none" stroke="#F5C518" stroke-width="0.95" points="310.6,398.7 331.5,405.6 352.4,396.5 373.3,405.6 394.2,391.8 415.0,374.7 435.9,382.6 456.8,405.6 477.7,431.6 498.6,398.7"/>
<polyline fill="none" stroke="#E8EC30" stroke-width="0.95" points="310.6,392.7 331.5,402.8 352.4,401.4 373.3,404.2 394.2,364.9 415.0,388.9 435.9,398.7 456.8,408.4 477.7,409.8 498.6,405.6"/>
<polyline fill="none" stroke="#B4EA3A" stroke-width="0.95" points="310.6,395.9 331.5,405.6 352.4,405.6 373.3,402.8 394.2,373.9 415.0,388.9 435.9,382.6 456.8,405.6 477.7,398.7 498.6,368.0"/>
<polyline fill="none" stroke="#7CEB3C" stroke-width="0.95" points="310.6,405.6 331.5,405.6 352.4,394.9 373.3,405.6 394.2,391.8 415.0,383.0 435.9,398.8 456.8,408.4 477.7,398.7 498.6,391.5"/>
<polyline fill="none" stroke="#22DD22" stroke-width="0.95" points="310.6,419.6 331.5,409.8 352.4,394.9 373.3,405.6 394.2,395.6 415.0,383.0 435.9,398.8 456.8,412.5 477.7,405.6 498.6,407.4"/>
<polyline fill="none" stroke="#26E060" stroke-width="0.95" points="310.6,413.9 331.5,408.4 352.4,405.6 373.3,405.6 394.2,398.7 415.0,402.8 435.9,405.6 456.8,415.3 477.7,412.5 498.6,405.6"/>
<polyline fill="none" stroke="#30E0A0" stroke-width="0.95" points="310.6,419.6 331.5,409.8 352.4,413.9 373.3,402.8 394.2,384.4 415.0,405.6 435.9,417.2 456.8,409.8 477.7,415.3 498.6,397.3"/>
<polyline fill="none" stroke="#30E0C8" stroke-width="0.95" points="310.6,423.5 331.5,408.4 352.4,412.5 373.3,405.6 394.2,384.4 415.0,405.6 435.9,417.2 456.8,412.5 477.7,416.1 498.6,391.8"/>
<polyline fill="none" stroke="#38E8F8" stroke-width="0.95" points="310.6,411.1 331.5,405.6 352.4,414.2 373.3,405.6 394.2,391.9 415.0,405.6 435.9,409.8 456.8,411.1 477.7,416.1 498.6,377.6"/>
<polyline fill="none" stroke="#20A8E8" stroke-width="0.95" points="310.6,411.1 331.5,394.9 352.4,414.2 373.3,405.0 394.2,391.9 415.0,409.8 435.9,391.1 456.8,412.4 477.7,371.4 498.6,377.6"/>
<polyline fill="none" stroke="#2C6EE0" stroke-width="0.95" points="310.6,428.4 331.5,408.0 352.4,401.0 373.3,417.2 394.2,399.6 415.0,416.5 435.9,391.1 456.8,404.8 477.7,402.1 498.6,397.2"/>
<polyline fill="none" stroke="#1A30B0" stroke-width="0.95" points="310.6,415.3 331.5,378.3 352.4,387.3 373.3,392.7 394.2,399.6 415.0,420.8 435.9,391.1 456.8,404.8 477.7,402.1 498.6,388.0"/>
<polyline fill="none" stroke="#2218B0" stroke-width="0.95" points="310.6,428.4 331.5,408.0 352.4,431.5 373.3,405.0 394.2,399.6 415.0,420.8 435.9,405.6 456.8,412.4 477.7,412.5 498.6,388.0"/>
<polyline fill="none" stroke="#5A22F0" stroke-width="0.95" points="310.6,434.7 331.5,408.0 352.4,419.6 373.3,405.0 394.2,399.6 415.0,416.5 435.9,405.6 456.8,417.8 477.7,405.6 498.6,397.3"/>
<polyline fill="none" stroke="#9020F0" stroke-width="0.95" points="310.6,434.7 331.5,409.8 352.4,419.6 373.3,405.6 394.2,387.1 415.0,409.5 435.9,404.9 456.8,417.8 477.7,391.9 498.6,381.5"/>
<polyline fill="none" stroke="#E038F8" stroke-width="0.95" points="310.6,399.6 331.5,399.6 352.4,406.4 373.3,405.6 394.2,417.2 415.0,407.3 435.9,404.9 456.8,397.4 477.7,413.5 498.6,403.7"/>
<polyline fill="none" stroke="#C030A8" stroke-width="0.95" points="310.6,405.0 331.5,399.6 352.4,399.6 373.3,405.6 394.2,403.4 415.0,409.5 435.9,405.6 456.8,421.2 477.7,413.5 498.6,403.7"/>
<polyline fill="none" stroke="#D03070" stroke-width="0.95" points="310.6,407.3 331.5,412.5 352.4,399.6 373.3,401.0 394.2,403.4 415.0,407.3 435.9,403.4 456.8,400.5 477.7,406.6 498.6,410.0"/>
<polyline fill="none" stroke="#EE2040" stroke-width="0.95" points="310.6,402.7 331.5,412.5 352.4,388.9 373.3,401.0 394.2,408.0 415.0,402.6 435.9,403.4 456.8,400.5 477.7,425.1 498.6,394.5"/>
<circle cx="310.6" cy="402.7" r="1.75" fill="#CC2028"/>
<circle cx="331.5" cy="412.0" r="1.75" fill="#CC2028"/>
<circle cx="352.4" cy="388.9" r="1.75" fill="#CC2028"/>
<circle cx="373.3" cy="412.5" r="1.75" fill="#CC2028"/>
<circle cx="394.2" cy="408.0" r="1.75" fill="#CC2028"/>
<circle cx="415.0" cy="402.6" r="1.75" fill="#CC2028"/>
<circle cx="435.9" cy="403.4" r="1.75" fill="#CC2028"/>
<circle cx="456.8" cy="426.1" r="1.75" fill="#CC2028"/>
<circle cx="477.7" cy="425.1" r="1.75" fill="#CC2028"/>
<circle cx="498.6" cy="394.5" r="1.75" fill="#CC2028"/>
<circle cx="310.6" cy="440.9" r="1.75" fill="#EE5528"/>
<circle cx="331.5" cy="428.0" r="1.75" fill="#EE5528"/>
<circle cx="352.4" cy="429.7" r="1.75" fill="#EE5528"/>
<circle cx="373.3" cy="381.9" r="1.75" fill="#EE5528"/>
<circle cx="394.2" cy="405.6" r="1.75" fill="#EE5528"/>
<circle cx="415.0" cy="409.8" r="1.75" fill="#EE5528"/>
<circle cx="435.9" cy="367.3" r="1.75" fill="#EE5528"/>
<circle cx="456.8" cy="392.7" r="1.75" fill="#EE5528"/>
<circle cx="477.7" cy="409.2" r="1.75" fill="#EE5528"/>
<circle cx="498.6" cy="426.1" r="1.75" fill="#EE5528"/>
<circle cx="310.6" cy="388.0" r="1.75" fill="#F08A1E"/>
<circle cx="331.5" cy="398.7" r="1.75" fill="#F08A1E"/>
<circle cx="352.4" cy="405.6" r="1.75" fill="#F08A1E"/>
<circle cx="373.3" cy="381.9" r="1.75" fill="#F08A1E"/>
<circle cx="394.2" cy="405.6" r="1.75" fill="#F08A1E"/>
<circle cx="415.0" cy="405.6" r="1.75" fill="#F08A1E"/>
<circle cx="435.9" cy="377.9" r="1.75" fill="#F08A1E"/>
<circle cx="456.8" cy="392.7" r="1.75" fill="#F08A1E"/>
<circle cx="477.7" cy="408.4" r="1.75" fill="#F08A1E"/>
<circle cx="498.6" cy="426.1" r="1.75" fill="#F08A1E"/>
<circle cx="310.6" cy="398.7" r="1.75" fill="#F5C518"/>
<circle cx="331.5" cy="405.6" r="1.75" fill="#F5C518"/>
<circle cx="352.4" cy="396.5" r="1.75" fill="#F5C518"/>
<circle cx="373.3" cy="405.6" r="1.75" fill="#F5C518"/>
<circle cx="394.2" cy="391.8" r="1.75" fill="#F5C518"/>
<circle cx="415.0" cy="374.7" r="1.75" fill="#F5C518"/>
<circle cx="435.9" cy="382.6" r="1.75" fill="#F5C518"/>
<circle cx="456.8" cy="405.6" r="1.75" fill="#F5C518"/>
<circle cx="477.7" cy="431.6" r="1.75" fill="#F5C518"/>
<circle cx="498.6" cy="398.7" r="1.75" fill="#F5C518"/>
<circle cx="310.6" cy="392.7" r="1.75" fill="#E8EC30"/>
<circle cx="331.5" cy="402.8" r="1.75" fill="#E8EC30"/>
<circle cx="352.4" cy="401.4" r="1.75" fill="#E8EC30"/>
<circle cx="373.3" cy="404.2" r="1.75" fill="#E8EC30"/>
<circle cx="394.2" cy="364.9" r="1.75" fill="#E8EC30"/>
<circle cx="415.0" cy="388.9" r="1.75" fill="#E8EC30"/>
<circle cx="435.9" cy="398.7" r="1.75" fill="#E8EC30"/>
<circle cx="456.8" cy="408.4" r="1.75" fill="#E8EC30"/>
<circle cx="477.7" cy="409.8" r="1.75" fill="#E8EC30"/>
<circle cx="498.6" cy="405.6" r="1.75" fill="#E8EC30"/>
<circle cx="310.6" cy="395.9" r="1.75" fill="#B4EA3A"/>
<circle cx="331.5" cy="405.6" r="1.75" fill="#B4EA3A"/>
<circle cx="352.4" cy="405.6" r="1.75" fill="#B4EA3A"/>
<circle cx="373.3" cy="402.8" r="1.75" fill="#B4EA3A"/>
<circle cx="394.2" cy="373.9" r="1.75" fill="#B4EA3A"/>
<circle cx="415.0" cy="388.9" r="1.75" fill="#B4EA3A"/>
<circle cx="435.9" cy="382.6" r="1.75" fill="#B4EA3A"/>
<circle cx="456.8" cy="405.6" r="1.75" fill="#B4EA3A"/>
<circle cx="477.7" cy="398.7" r="1.75" fill="#B4EA3A"/>
<circle cx="498.6" cy="368.0" r="1.75" fill="#B4EA3A"/>
<circle cx="310.6" cy="405.6" r="1.75" fill="#7CEB3C"/>
<circle cx="331.5" cy="405.6" r="1.75" fill="#7CEB3C"/>
<circle cx="352.4" cy="394.9" r="1.75" fill="#7CEB3C"/>
<circle cx="373.3" cy="405.6" r="1.75" fill="#7CEB3C"/>
<circle cx="394.2" cy="391.8" r="1.75" fill="#7CEB3C"/>
<circle cx="415.0" cy="383.0" r="1.75" fill="#7CEB3C"/>
<circle cx="435.9" cy="398.8" r="1.75" fill="#7CEB3C"/>
<circle cx="456.8" cy="408.4" r="1.75" fill="#7CEB3C"/>
<circle cx="477.7" cy="398.7" r="1.75" fill="#7CEB3C"/>
<circle cx="498.6" cy="391.5" r="1.75" fill="#7CEB3C"/>
<circle cx="310.6" cy="419.6" r="1.75" fill="#22DD22"/>
<circle cx="331.5" cy="409.8" r="1.75" fill="#22DD22"/>
<circle cx="352.4" cy="394.9" r="1.75" fill="#22DD22"/>
<circle cx="373.3" cy="405.6" r="1.75" fill="#22DD22"/>
<circle cx="394.2" cy="395.6" r="1.75" fill="#22DD22"/>
<circle cx="415.0" cy="383.0" r="1.75" fill="#22DD22"/>
<circle cx="435.9" cy="398.8" r="1.75" fill="#22DD22"/>
<circle cx="456.8" cy="412.5" r="1.75" fill="#22DD22"/>
<circle cx="477.7" cy="405.6" r="1.75" fill="#22DD22"/>
<circle cx="498.6" cy="407.4" r="1.75" fill="#22DD22"/>
<circle cx="310.6" cy="413.9" r="1.75" fill="#26E060"/>
<circle cx="331.5" cy="408.4" r="1.75" fill="#26E060"/>
<circle cx="352.4" cy="405.6" r="1.75" fill="#26E060"/>
<circle cx="373.3" cy="405.6" r="1.75" fill="#26E060"/>
<circle cx="394.2" cy="398.7" r="1.75" fill="#26E060"/>
<circle cx="415.0" cy="402.8" r="1.75" fill="#26E060"/>
<circle cx="435.9" cy="405.6" r="1.75" fill="#26E060"/>
<circle cx="456.8" cy="415.3" r="1.75" fill="#26E060"/>
<circle cx="477.7" cy="412.5" r="1.75" fill="#26E060"/>
<circle cx="498.6" cy="405.6" r="1.75" fill="#26E060"/>
<circle cx="310.6" cy="419.6" r="1.75" fill="#30E0A0"/>
<circle cx="331.5" cy="409.8" r="1.75" fill="#30E0A0"/>
<circle cx="352.4" cy="413.9" r="1.75" fill="#30E0A0"/>
<circle cx="373.3" cy="402.8" r="1.75" fill="#30E0A0"/>
<circle cx="394.2" cy="384.4" r="1.75" fill="#30E0A0"/>
<circle cx="415.0" cy="405.6" r="1.75" fill="#30E0A0"/>
<circle cx="435.9" cy="417.2" r="1.75" fill="#30E0A0"/>
<circle cx="456.8" cy="409.8" r="1.75" fill="#30E0A0"/>
<circle cx="477.7" cy="415.3" r="1.75" fill="#30E0A0"/>
<circle cx="498.6" cy="397.3" r="1.75" fill="#30E0A0"/>
<circle cx="310.6" cy="423.5" r="1.75" fill="#30E0C8"/>
<circle cx="331.5" cy="408.4" r="1.75" fill="#30E0C8"/>
<circle cx="352.4" cy="412.5" r="1.75" fill="#30E0C8"/>
<circle cx="373.3" cy="405.6" r="1.75" fill="#30E0C8"/>
<circle cx="394.2" cy="384.4" r="1.75" fill="#30E0C8"/>
<circle cx="415.0" cy="405.6" r="1.75" fill="#30E0C8"/>
<circle cx="435.9" cy="417.2" r="1.75" fill="#30E0C8"/>
<circle cx="456.8" cy="412.5" r="1.75" fill="#30E0C8"/>
<circle cx="477.7" cy="416.1" r="1.75" fill="#30E0C8"/>
<circle cx="498.6" cy="391.8" r="1.75" fill="#30E0C8"/>
<circle cx="310.6" cy="411.1" r="1.75" fill="#38E8F8"/>
<circle cx="331.5" cy="405.6" r="1.75" fill="#38E8F8"/>
<circle cx="352.4" cy="414.2" r="1.75" fill="#38E8F8"/>
<circle cx="373.3" cy="405.6" r="1.75" fill="#38E8F8"/>
<circle cx="394.2" cy="391.9" r="1.75" fill="#38E8F8"/>
<circle cx="415.0" cy="405.6" r="1.75" fill="#38E8F8"/>
<circle cx="435.9" cy="409.8" r="1.75" fill="#38E8F8"/>
<circle cx="456.8" cy="411.1" r="1.75" fill="#38E8F8"/>
<circle cx="477.7" cy="416.1" r="1.75" fill="#38E8F8"/>
<circle cx="498.6" cy="377.6" r="1.75" fill="#38E8F8"/>
<circle cx="310.6" cy="411.1" r="1.75" fill="#20A8E8"/>
<circle cx="331.5" cy="394.9" r="1.75" fill="#20A8E8"/>
<circle cx="352.4" cy="414.2" r="1.75" fill="#20A8E8"/>
<circle cx="373.3" cy="405.0" r="1.75" fill="#20A8E8"/>
<circle cx="394.2" cy="391.9" r="1.75" fill="#20A8E8"/>
<circle cx="415.0" cy="409.8" r="1.75" fill="#20A8E8"/>
<circle cx="435.9" cy="391.1" r="1.75" fill="#20A8E8"/>
<circle cx="456.8" cy="412.4" r="1.75" fill="#20A8E8"/>
<circle cx="477.7" cy="371.4" r="1.75" fill="#20A8E8"/>
<circle cx="498.6" cy="377.6" r="1.75" fill="#20A8E8"/>
<circle cx="310.6" cy="428.4" r="1.75" fill="#2C6EE0"/>
<circle cx="331.5" cy="408.0" r="1.75" fill="#2C6EE0"/>
<circle cx="352.4" cy="401.0" r="1.75" fill="#2C6EE0"/>
<circle cx="373.3" cy="417.2" r="1.75" fill="#2C6EE0"/>
<circle cx="394.2" cy="399.6" r="1.75" fill="#2C6EE0"/>
<circle cx="415.0" cy="416.5" r="1.75" fill="#2C6EE0"/>
<circle cx="435.9" cy="391.1" r="1.75" fill="#2C6EE0"/>
<circle cx="456.8" cy="404.8" r="1.75" fill="#2C6EE0"/>
<circle cx="477.7" cy="402.1" r="1.75" fill="#2C6EE0"/>
<circle cx="498.6" cy="397.2" r="1.75" fill="#2C6EE0"/>
<circle cx="310.6" cy="415.3" r="1.75" fill="#1A30B0"/>
<circle cx="331.5" cy="378.3" r="1.75" fill="#1A30B0"/>
<circle cx="352.4" cy="387.3" r="1.75" fill="#1A30B0"/>
<circle cx="373.3" cy="392.7" r="1.75" fill="#1A30B0"/>
<circle cx="394.2" cy="399.6" r="1.75" fill="#1A30B0"/>
<circle cx="415.0" cy="420.8" r="1.75" fill="#1A30B0"/>
<circle cx="435.9" cy="391.1" r="1.75" fill="#1A30B0"/>
<circle cx="456.8" cy="404.8" r="1.75" fill="#1A30B0"/>
<circle cx="477.7" cy="402.1" r="1.75" fill="#1A30B0"/>
<circle cx="498.6" cy="388.0" r="1.75" fill="#1A30B0"/>
<circle cx="310.6" cy="428.4" r="1.75" fill="#2218B0"/>
<circle cx="331.5" cy="408.0" r="1.75" fill="#2218B0"/>
<circle cx="352.4" cy="431.5" r="1.75" fill="#2218B0"/>
<circle cx="373.3" cy="405.0" r="1.75" fill="#2218B0"/>
<circle cx="394.2" cy="399.6" r="1.75" fill="#2218B0"/>
<circle cx="415.0" cy="420.8" r="1.75" fill="#2218B0"/>
<circle cx="435.9" cy="405.6" r="1.75" fill="#2218B0"/>
<circle cx="456.8" cy="412.4" r="1.75" fill="#2218B0"/>
<circle cx="477.7" cy="412.5" r="1.75" fill="#2218B0"/>
<circle cx="498.6" cy="388.0" r="1.75" fill="#2218B0"/>
<circle cx="310.6" cy="434.7" r="1.75" fill="#5A22F0"/>
<circle cx="331.5" cy="408.0" r="1.75" fill="#5A22F0"/>
<circle cx="352.4" cy="419.6" r="1.75" fill="#5A22F0"/>
<circle cx="373.3" cy="405.0" r="1.75" fill="#5A22F0"/>
<circle cx="394.2" cy="399.6" r="1.75" fill="#5A22F0"/>
<circle cx="415.0" cy="416.5" r="1.75" fill="#5A22F0"/>
<circle cx="435.9" cy="405.6" r="1.75" fill="#5A22F0"/>
<circle cx="456.8" cy="417.8" r="1.75" fill="#5A22F0"/>
<circle cx="477.7" cy="405.6" r="1.75" fill="#5A22F0"/>
<circle cx="498.6" cy="397.3" r="1.75" fill="#5A22F0"/>
<circle cx="310.6" cy="434.7" r="1.75" fill="#9020F0"/>
<circle cx="331.5" cy="409.8" r="1.75" fill="#9020F0"/>
<circle cx="352.4" cy="419.6" r="1.75" fill="#9020F0"/>
<circle cx="373.3" cy="405.6" r="1.75" fill="#9020F0"/>
<circle cx="394.2" cy="387.1" r="1.75" fill="#9020F0"/>
<circle cx="415.0" cy="409.5" r="1.75" fill="#9020F0"/>
<circle cx="435.9" cy="404.9" r="1.75" fill="#9020F0"/>
<circle cx="456.8" cy="417.8" r="1.75" fill="#9020F0"/>
<circle cx="477.7" cy="391.9" r="1.75" fill="#9020F0"/>
<circle cx="498.6" cy="381.5" r="1.75" fill="#9020F0"/>
<circle cx="310.6" cy="399.6" r="1.75" fill="#E038F8"/>
<circle cx="331.5" cy="399.6" r="1.75" fill="#E038F8"/>
<circle cx="352.4" cy="406.4" r="1.75" fill="#E038F8"/>
<circle cx="373.3" cy="405.6" r="1.75" fill="#E038F8"/>
<circle cx="394.2" cy="417.2" r="1.75" fill="#E038F8"/>
<circle cx="415.0" cy="407.3" r="1.75" fill="#E038F8"/>
<circle cx="435.9" cy="404.9" r="1.75" fill="#E038F8"/>
<circle cx="456.8" cy="397.4" r="1.75" fill="#E038F8"/>
<circle cx="477.7" cy="413.5" r="1.75" fill="#E038F8"/>
<circle cx="498.6" cy="403.7" r="1.75" fill="#E038F8"/>
<circle cx="310.6" cy="405.0" r="1.75" fill="#C030A8"/>
<circle cx="331.5" cy="399.6" r="1.75" fill="#C030A8"/>
<circle cx="352.4" cy="399.6" r="1.75" fill="#C030A8"/>
<circle cx="373.3" cy="405.6" r="1.75" fill="#C030A8"/>
<circle cx="394.2" cy="403.4" r="1.75" fill="#C030A8"/>
<circle cx="415.0" cy="409.5" r="1.75" fill="#C030A8"/>
<circle cx="435.9" cy="405.6" r="1.75" fill="#C030A8"/>
<circle cx="456.8" cy="421.2" r="1.75" fill="#C030A8"/>
<circle cx="477.7" cy="413.5" r="1.75" fill="#C030A8"/>
<circle cx="498.6" cy="403.7" r="1.75" fill="#C030A8"/>
<circle cx="310.6" cy="407.3" r="1.75" fill="#D03070"/>
<circle cx="331.5" cy="412.5" r="1.75" fill="#D03070"/>
<circle cx="352.4" cy="399.6" r="1.75" fill="#D03070"/>
<circle cx="373.3" cy="401.0" r="1.75" fill="#D03070"/>
<circle cx="394.2" cy="403.4" r="1.75" fill="#D03070"/>
<circle cx="415.0" cy="407.3" r="1.75" fill="#D03070"/>
<circle cx="435.9" cy="403.4" r="1.75" fill="#D03070"/>
<circle cx="456.8" cy="400.5" r="1.75" fill="#D03070"/>
<circle cx="477.7" cy="406.6" r="1.75" fill="#D03070"/>
<circle cx="498.6" cy="410.0" r="1.75" fill="#D03070"/>
<circle cx="310.6" cy="402.7" r="1.75" fill="#EE2040"/>
<circle cx="331.5" cy="412.5" r="1.75" fill="#EE2040"/>
<circle cx="352.4" cy="388.9" r="1.75" fill="#EE2040"/>
<circle cx="373.3" cy="401.0" r="1.75" fill="#EE2040"/>
<circle cx="394.2" cy="408.0" r="1.75" fill="#EE2040"/>
<circle cx="415.0" cy="402.6" r="1.75" fill="#EE2040"/>
<circle cx="435.9" cy="403.4" r="1.75" fill="#EE2040"/>
<circle cx="456.8" cy="400.5" r="1.75" fill="#EE2040"/>
<circle cx="477.7" cy="425.1" r="1.75" fill="#EE2040"/>
<circle cx="498.6" cy="394.5" r="1.75" fill="#EE2040"/>
<rect x="386.25" y="444.4" width="116.0" height="46.69999999999999" fill="#fff"/>
<clipPath id="cD"><rect x="386.25" y="444.4" width="116.0" height="46.69999999999999"/></clipPath>
<polygon clip-path="url(#cD)" fill="#bebebe" points="386.2,466.4 399.1,465.7 412.0,465.3 424.9,466.4 437.8,462.8 450.7,465.7 463.6,463.1 476.5,467.1 489.4,465.3 502.2,462.0 502.2,476.5 489.4,477.6 476.5,478.7 463.6,475.4 450.7,475.4 437.8,475.4 424.9,476.5 412.0,476.5 399.1,477.2 386.2,478.7"/>
<line x1="386.25" y1="471.45" x2="502.25" y2="471.45" stroke="#222" stroke-width="1.1" stroke-dasharray="3.5 3.5"/>
<line x1="418.47" y1="444.4" x2="418.47" y2="491.09999999999997" stroke="#222" stroke-width="1.1" stroke-dasharray="3.5 3.5"/>
<line x1="450.69" y1="444.4" x2="450.69" y2="491.09999999999997" stroke="#222" stroke-width="1.1" stroke-dasharray="3.5 3.5"/>
<polyline clip-path="url(#cD)" fill="none" stroke="#000" stroke-width="1.1" points="386.2,472.2 399.1,471.4 412.0,471.4 424.9,471.1 437.8,469.6 450.7,471.4 463.6,470.4 476.5,472.5 489.4,471.4 502.2,469.6"/>
<rect x="386.25" y="444.4" width="116.0" height="46.69999999999999" fill="none" stroke="#000" stroke-width="1.1"/>
<line x1="382.75" y1="453.35" x2="386.25" y2="453.35" stroke="#000" stroke-width="1"/>
<text x="379.65" y="456.85" font-size="9.8" text-anchor="end">0.5</text>
<line x1="382.75" y1="471.45" x2="386.25" y2="471.45" stroke="#000" stroke-width="1"/>
<text x="379.65" y="474.95" font-size="9.8" text-anchor="end">0</text>
<line x1="382.75" y1="489.55" x2="386.25" y2="489.55" stroke="#000" stroke-width="1"/>
<text x="379.65" y="493.05" font-size="9.8" text-anchor="end">−0.5</text>
<rect x="303.59999999999997" y="294.7" width="202.3" height="201.10000000000002" fill="none" stroke="#1a1a1a" stroke-width="1.05"/>
<line x1="297.49999999999994" y1="301.80" x2="303.59999999999997" y2="301.80" stroke="#111" stroke-width="1.1"/>
<text x="292.45" y="306.30" font-size="12.2" text-anchor="end">0.75</text>
<line x1="297.49999999999994" y1="336.40" x2="303.59999999999997" y2="336.40" stroke="#111" stroke-width="1.1"/>
<text x="292.45" y="340.90" font-size="12.2" text-anchor="end">0.5</text>
<line x1="297.49999999999994" y1="371.00" x2="303.59999999999997" y2="371.00" stroke="#111" stroke-width="1.1"/>
<text x="292.45" y="375.50" font-size="12.2" text-anchor="end">0.25</text>
<line x1="297.49999999999994" y1="405.60" x2="303.59999999999997" y2="405.60" stroke="#111" stroke-width="1.1"/>
<text x="292.45" y="410.10" font-size="12.2" text-anchor="end">0</text>
<line x1="297.49999999999994" y1="440.20" x2="303.59999999999997" y2="440.20" stroke="#111" stroke-width="1.1"/>
<text x="292.45" y="444.70" font-size="12.2" text-anchor="end">−0.25</text>
<line x1="297.49999999999994" y1="474.80" x2="303.59999999999997" y2="474.80" stroke="#111" stroke-width="1.1"/>
<text x="292.45" y="479.30" font-size="12.2" text-anchor="end">−0.5</text>
<text x="331.53" y="292.4" font-size="14.1" text-anchor="middle">Batch 1</text>
<text x="394.17" y="292.4" font-size="14.1" text-anchor="middle">Batch 2</text>
<text x="467.25" y="292.4" font-size="14.1" text-anchor="middle">Batch 3</text>
<text transform="translate(265.45,286.5) scale(0.93,1)" font-size="14.3" font-weight="bold">D</text>
<text transform="translate(266.65,395.29999999999995) rotate(-90)" font-size="14.4" text-anchor="middle">Drift</text>
<text x="394.55" y="519.4" font-size="14.3" text-anchor="middle">HPS run order</text>
<rect x="511.5" y="88.3" width="87" height="312.3" fill="#fff" stroke="#222" stroke-width="1.1"/>
<line x1="521" y1="101.70" x2="543.2" y2="101.70" stroke="#CC2028" stroke-width="2"/>
<text x="552.8" y="105.80" font-size="11.6">KIT</text>
<line x1="521" y1="115.30" x2="543.2" y2="115.30" stroke="#EE5528" stroke-width="2"/>
<text x="552.8" y="119.40" font-size="11.6">FRIL</text>
<line x1="521" y1="128.90" x2="543.2" y2="128.90" stroke="#F08A1E" stroke-width="2"/>
<text x="552.8" y="133.00" font-size="11.6">COIA1</text>
<line x1="521" y1="142.50" x2="543.2" y2="142.50" stroke="#F5C518" stroke-width="2"/>
<text x="552.8" y="146.60" font-size="11.6">PRDX1</text>
<line x1="521" y1="156.10" x2="543.2" y2="156.10" stroke="#E8EC30" stroke-width="2"/>
<text x="552.8" y="160.20" font-size="11.6">TENX</text>
<line x1="521" y1="169.70" x2="543.2" y2="169.70" stroke="#B4EA3A" stroke-width="2"/>
<text x="552.8" y="173.80" font-size="11.6">ENPL</text>
<line x1="521" y1="183.30" x2="543.2" y2="183.30" stroke="#7CEB3C" stroke-width="2"/>
<text x="552.8" y="187.40" font-size="11.6">GRP78</text>
<line x1="521" y1="196.90" x2="543.2" y2="196.90" stroke="#22DD22" stroke-width="2"/>
<text x="552.8" y="201.00" font-size="11.6">BGH3</text>
<line x1="521" y1="210.50" x2="543.2" y2="210.50" stroke="#26E060" stroke-width="2"/>
<text x="552.8" y="214.60" font-size="11.6">ALDOA</text>
<line x1="521" y1="224.10" x2="543.2" y2="224.10" stroke="#30E0A0" stroke-width="2"/>
<text x="552.8" y="228.20" font-size="11.6">GGH</text>
<line x1="521" y1="237.70" x2="543.2" y2="237.70" stroke="#30E0C8" stroke-width="2"/>
<text x="552.8" y="241.80" font-size="11.6">CD14</text>
<line x1="521" y1="251.30" x2="543.2" y2="251.30" stroke="#38E8F8" stroke-width="2"/>
<text x="552.8" y="255.40" font-size="11.6">LG3BP</text>
<line x1="521" y1="264.90" x2="543.2" y2="264.90" stroke="#20A8E8" stroke-width="2"/>
<text x="552.8" y="269.00" font-size="11.6">TSP1</text>
<line x1="521" y1="278.50" x2="543.2" y2="278.50" stroke="#2C6EE0" stroke-width="2"/>
<text x="552.8" y="282.60" font-size="11.6">IBP3</text>
<line x1="521" y1="292.10" x2="543.2" y2="292.10" stroke="#1A30B0" stroke-width="2"/>
<text x="552.8" y="296.20" font-size="11.6">TETN</text>
<line x1="521" y1="305.70" x2="543.2" y2="305.70" stroke="#2218B0" stroke-width="2"/>
<text x="552.8" y="309.80" font-size="11.6">ISLR</text>
<line x1="521" y1="319.30" x2="543.2" y2="319.30" stroke="#5A22F0" stroke-width="2"/>
<text x="552.8" y="323.40" font-size="11.6">C163A</text>
<line x1="521" y1="332.90" x2="543.2" y2="332.90" stroke="#9020F0" stroke-width="2"/>
<text x="552.8" y="337.00" font-size="11.6">GELS</text>
<line x1="521" y1="346.50" x2="543.2" y2="346.50" stroke="#E038F8" stroke-width="2"/>
<text x="552.8" y="350.60" font-size="11.6">LUM</text>
<line x1="521" y1="360.10" x2="543.2" y2="360.10" stroke="#C030A8" stroke-width="2"/>
<text x="552.8" y="364.20" font-size="11.6">MASP1</text>
<line x1="521" y1="373.70" x2="543.2" y2="373.70" stroke="#D03070" stroke-width="2"/>
<text x="552.8" y="377.80" font-size="11.6">PEDF</text>
<line x1="521" y1="387.30" x2="543.2" y2="387.30" stroke="#EE2040" stroke-width="2"/>
<text x="552.8" y="391.40" font-size="11.6">PTPRJ</text>
</svg></body></html>
